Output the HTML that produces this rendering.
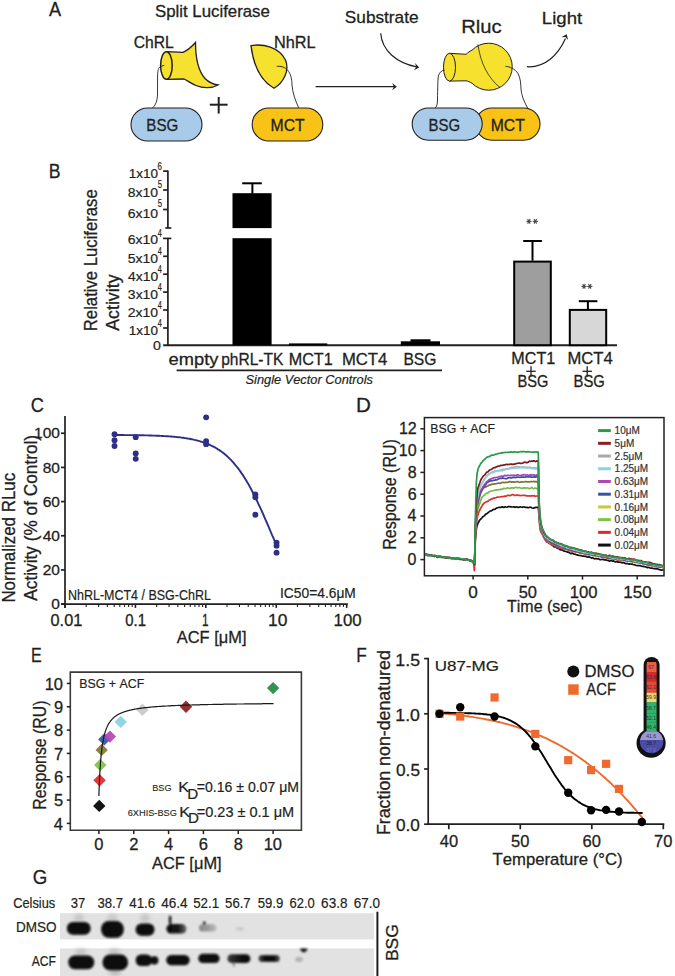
<!DOCTYPE html>
<html><head><meta charset="utf-8"><style>
html,body{margin:0;padding:0;background:#fff;}
svg{display:block;}
text{font-family:"Liberation Sans", sans-serif;font-kerning:none;}
</style></head><body>
<svg width="675" height="976" viewBox="0 0 675 976">
<rect width="675" height="976" fill="#fff"/>
<text x="49.05" y="15.80" font-size="20.5" textLength="12.08" lengthAdjust="spacingAndGlyphs" fill="#231f20" stroke="#231f20" stroke-width="0.3" >A</text>
<text x="155.04" y="17.00" font-size="16.3" textLength="114.81" lengthAdjust="spacingAndGlyphs" fill="#231f20" stroke="#231f20" stroke-width="0.3" >Split Luciferase</text>
<text x="133.82" y="47.80" font-size="15.9" textLength="40.02" lengthAdjust="spacingAndGlyphs" fill="#231f20" stroke="#231f20" stroke-width="0.3" >ChRL</text>
<text x="273.96" y="47.80" font-size="15.9" textLength="41.60" lengthAdjust="spacingAndGlyphs" fill="#231f20" stroke="#231f20" stroke-width="0.3" >NhRL</text>
<text x="344.83" y="23.30" font-size="17.0" textLength="73.71" lengthAdjust="spacingAndGlyphs" fill="#231f20" stroke="#231f20" stroke-width="0.3" >Substrate</text>
<text x="461.23" y="33.30" font-size="18.8" textLength="40.43" lengthAdjust="spacingAndGlyphs" fill="#231f20" stroke="#231f20" stroke-width="0.3" >Rluc</text>
<text x="541.87" y="23.60" font-size="16.8" textLength="40.29" lengthAdjust="spacingAndGlyphs" fill="#231f20" stroke="#231f20" stroke-width="0.3" >Light</text>
<path d="M167,51.7 L183,52.4 C188,50 192,46.5 195.5,42.5 C195.5,56 197.5,70 205,78.5 C209,82.5 213.5,84.5 218,85 C212,88.5 203,88.5 196,85.5 C191,83.5 187.5,80.5 184,79 L167,79.4 Z" fill="#f6e12f" stroke="#231f20" stroke-width="1.3" />
<ellipse cx="166.4" cy="65.5" rx="5.8" ry="13.8" fill="#f6e12f" stroke="#231f20" stroke-width="1.5"/>
<path d="M164.3,65.3 L160.4,66.5 C158.5,68 157.8,70 157.6,75 L157.5,95 C157.3,101 155.5,105.5 152.5,108" fill="none" stroke="#231f20" stroke-width="0.9" />
<rect x="131" y="108" width="71" height="33" rx="16.5" fill="#a9cbea" stroke="#231f20" stroke-width="1.1"/>
<text x="146.35" y="131.00" font-size="16.3" textLength="31.97" lengthAdjust="spacingAndGlyphs" fill="#231f20" stroke="#231f20" stroke-width="0.3" >BSG</text>
<line x1="209.80" y1="104.70" x2="227.60" y2="104.70" stroke="#231f20" stroke-width="2.0" />
<line x1="218.70" y1="97.00" x2="218.70" y2="113.60" stroke="#231f20" stroke-width="2.0" />
<path d="M251,45.6 C263,43.5 279,47 285.5,60 C290,71 283,83 274,88.3 C263,82 254,70 251,45.6 Z" fill="#f6e12f" stroke="#231f20" stroke-width="1.3" />
<path d="M276.8,66.3 C281,66 285,67 287.5,70 C291,74 291.8,79 292,85 C292.5,92 295,100 298.7,107.8" fill="none" stroke="#231f20" stroke-width="0.9" />
<rect x="252.2" y="108" width="70.6" height="33" rx="16.5" fill="#f8c316" stroke="#231f20" stroke-width="1.1"/>
<text x="270.50" y="131.30" font-size="16.3" textLength="34.17" lengthAdjust="spacingAndGlyphs" fill="#231f20" stroke="#231f20" stroke-width="0.3" >MCT</text>
<line x1="315.60" y1="86.70" x2="394.00" y2="86.70" stroke="#231f20" stroke-width="1.2" />
<path d="M396.90,86.70 L392.10,90.30 L393.90,86.70 L392.10,83.10 Z" fill="#231f20"/>
<path d="M380.7,33.3 C382,51 397,63 416.5,66.9" fill="none" stroke="#231f20" stroke-width="1.2" />
<path d="M419.20,67.40 L413.90,70.20 L416.24,66.93 L415.02,63.09 Z" fill="#231f20"/>
<path d="M449.5,53.3 L466,54.3 C468,52.5 470,51 472,50.2 A23.5,23.5 0 1,1 472,83.2 C470,82.3 468,81 466,80.8 L449.5,81.1 Z" fill="#f6e12f" stroke="#231f20" stroke-width="1.0" />
<path d="M478,44.4 C480,62 488,78 500,87.6" fill="none" stroke="#231f20" stroke-width="0.8" />
<ellipse cx="449.5" cy="67.2" rx="6" ry="13.9" fill="#f6e12f" stroke="#231f20" stroke-width="1"/>
<path d="M444.4,70.1 C441.5,70.5 439.2,72.5 438.4,76 C437.6,80 437.7,95 437.4,102 C437.2,105 436.3,107 435.3,107.8" fill="none" stroke="#231f20" stroke-width="0.9" />
<path d="M505.5,66.4 C510,66.5 515,69 518,73.5 C520.5,78 520.8,84 521,89 C521.3,95 524,101 527,107 C528,108.5 529.5,110 531,111" fill="none" stroke="#231f20" stroke-width="0.9" />
<rect x="475.6" y="108" width="64.4" height="32.2" rx="16.1" fill="#f8c316" stroke="#231f20" stroke-width="1.1"/>
<rect x="412.2" y="108" width="70" height="32.2" rx="16.1" fill="#a9cbea" stroke="#231f20" stroke-width="1.1"/>
<text x="428.56" y="131.00" font-size="16.3" textLength="31.65" lengthAdjust="spacingAndGlyphs" fill="#231f20" stroke="#231f20" stroke-width="0.3" >BSG</text>
<text x="490.70" y="131.00" font-size="16.3" textLength="34.17" lengthAdjust="spacingAndGlyphs" fill="#231f20" stroke="#231f20" stroke-width="0.3" >MCT</text>
<path d="M526.9,66.7 C545,68 558,55 565.5,38.5" fill="none" stroke="#231f20" stroke-width="1.2" />
<path d="M566.60,34.20 L568.14,40.00 L565.48,36.98 L561.46,37.30 Z" fill="#231f20"/>
<text x="48.74" y="177.80" font-size="20.5" textLength="11.77" lengthAdjust="spacingAndGlyphs" fill="#231f20" stroke="#231f20" stroke-width="0.3" >B</text>
<line x1="167.90" y1="170.40" x2="167.90" y2="228.00" stroke="#231f20" stroke-width="1.7" />
<line x1="165.30" y1="228.00" x2="171.30" y2="228.00" stroke="#231f20" stroke-width="1.7" />
<line x1="163.10" y1="171.10" x2="167.90" y2="171.10" stroke="#231f20" stroke-width="1.7" />
<line x1="163.10" y1="190.00" x2="167.90" y2="190.00" stroke="#231f20" stroke-width="1.7" />
<line x1="163.10" y1="209.50" x2="167.90" y2="209.50" stroke="#231f20" stroke-width="1.7" />
<line x1="167.90" y1="238.40" x2="167.90" y2="345.30" stroke="#231f20" stroke-width="1.7" />
<line x1="163.10" y1="238.40" x2="171.30" y2="238.40" stroke="#231f20" stroke-width="1.7" />
<line x1="163.10" y1="256.30" x2="167.90" y2="256.30" stroke="#231f20" stroke-width="1.7" />
<line x1="163.10" y1="274.20" x2="167.90" y2="274.20" stroke="#231f20" stroke-width="1.7" />
<line x1="163.10" y1="292.10" x2="167.90" y2="292.10" stroke="#231f20" stroke-width="1.7" />
<line x1="163.10" y1="310.00" x2="167.90" y2="310.00" stroke="#231f20" stroke-width="1.7" />
<line x1="163.10" y1="328.00" x2="167.90" y2="328.00" stroke="#231f20" stroke-width="1.7" />
<text x="128.79" y="177.80" font-size="13.2" textLength="29.34" lengthAdjust="spacingAndGlyphs" fill="#231f20" stroke="#231f20" stroke-width="0.2" >1x10</text>
<text x="157.60" y="169.50" font-size="10.4" textLength="4.45" lengthAdjust="spacingAndGlyphs" fill="#231f20" stroke="#231f20" stroke-width="0.2" >6</text>
<text x="127.81" y="197.40" font-size="13.2" textLength="30.33" lengthAdjust="spacingAndGlyphs" fill="#231f20" stroke="#231f20" stroke-width="0.2" >8x10</text>
<text x="157.69" y="188.10" font-size="10.4" textLength="4.33" lengthAdjust="spacingAndGlyphs" fill="#231f20" stroke="#231f20" stroke-width="0.2" >5</text>
<text x="127.70" y="218.10" font-size="13.2" textLength="30.44" lengthAdjust="spacingAndGlyphs" fill="#231f20" stroke="#231f20" stroke-width="0.2" >6x10</text>
<text x="157.69" y="207.40" font-size="10.4" textLength="4.33" lengthAdjust="spacingAndGlyphs" fill="#231f20" stroke="#231f20" stroke-width="0.2" >5</text>
<text x="127.70" y="244.40" font-size="13.2" textLength="30.44" lengthAdjust="spacingAndGlyphs" fill="#231f20" stroke="#231f20" stroke-width="0.2" >6x10</text>
<text x="157.84" y="237.40" font-size="10.4" textLength="4.07" lengthAdjust="spacingAndGlyphs" fill="#231f20" stroke="#231f20" stroke-width="0.2" >4</text>
<text x="127.84" y="263.10" font-size="13.2" textLength="30.30" lengthAdjust="spacingAndGlyphs" fill="#231f20" stroke="#231f20" stroke-width="0.2" >5x10</text>
<text x="157.84" y="255.40" font-size="10.4" textLength="4.07" lengthAdjust="spacingAndGlyphs" fill="#231f20" stroke="#231f20" stroke-width="0.2" >4</text>
<text x="128.09" y="281.00" font-size="13.2" textLength="30.05" lengthAdjust="spacingAndGlyphs" fill="#231f20" stroke="#231f20" stroke-width="0.2" >4x10</text>
<text x="157.84" y="273.30" font-size="10.4" textLength="4.07" lengthAdjust="spacingAndGlyphs" fill="#231f20" stroke="#231f20" stroke-width="0.2" >4</text>
<text x="127.88" y="298.90" font-size="13.2" textLength="30.26" lengthAdjust="spacingAndGlyphs" fill="#231f20" stroke="#231f20" stroke-width="0.2" >3x10</text>
<text x="157.84" y="291.20" font-size="10.4" textLength="4.07" lengthAdjust="spacingAndGlyphs" fill="#231f20" stroke="#231f20" stroke-width="0.2" >4</text>
<text x="127.70" y="316.80" font-size="13.2" textLength="30.44" lengthAdjust="spacingAndGlyphs" fill="#231f20" stroke="#231f20" stroke-width="0.2" >2x10</text>
<text x="157.84" y="309.10" font-size="10.4" textLength="4.07" lengthAdjust="spacingAndGlyphs" fill="#231f20" stroke="#231f20" stroke-width="0.2" >4</text>
<text x="128.79" y="334.80" font-size="13.2" textLength="29.34" lengthAdjust="spacingAndGlyphs" fill="#231f20" stroke="#231f20" stroke-width="0.2" >1x10</text>
<text x="157.84" y="327.10" font-size="10.4" textLength="4.07" lengthAdjust="spacingAndGlyphs" fill="#231f20" stroke="#231f20" stroke-width="0.2" >4</text>
<text x="153.03" y="350.40" font-size="13.2" textLength="7.92" lengthAdjust="spacingAndGlyphs" fill="#231f20" stroke="#231f20" stroke-width="0.2" >0</text>
<text x="95.52" y="329.80" font-size="18.0" textLength="141.92" lengthAdjust="spacingAndGlyphs" fill="#231f20" stroke="#231f20" stroke-width="0.3" transform="rotate(-90 96.90 329.80)">Relative Luciferase</text>
<text x="118.66" y="330.70" font-size="18.0" textLength="56.28" lengthAdjust="spacingAndGlyphs" fill="#231f20" stroke="#231f20" stroke-width="0.3" transform="rotate(-90 118.70 330.70)">Activity</text>
<line x1="163.20" y1="345.20" x2="617.00" y2="345.20" stroke="#231f20" stroke-width="1.9" />
<rect x="232.5" y="193.2" width="39.1" height="34.9" fill="#000"/>
<rect x="232.5" y="238.2" width="39.1" height="107" fill="#000"/>
<line x1="252.40" y1="193.50" x2="252.40" y2="183.30" stroke="#000" stroke-width="2.0" />
<line x1="242.20" y1="183.30" x2="261.80" y2="183.30" stroke="#000" stroke-width="2.0" />
<rect x="289" y="343.4" width="38.3" height="2" fill="#000"/>
<rect x="400.8" y="341.3" width="39.2" height="4" fill="#000"/>
<rect x="410.5" y="339.3" width="20" height="2.5" fill="#000"/>
<rect x="514.2" y="261.6" width="36.6" height="83.6" fill="#9e9e9e" stroke="#000" stroke-width="2"/>
<line x1="532.50" y1="260.60" x2="532.50" y2="241.00" stroke="#000" stroke-width="2.0" />
<line x1="523.20" y1="241.00" x2="541.90" y2="241.00" stroke="#000" stroke-width="2.0" />
<rect x="569.8" y="309.9" width="36.4" height="35.3" fill="#d7d7d7" stroke="#000" stroke-width="2"/>
<line x1="587.90" y1="309.00" x2="587.90" y2="301.20" stroke="#000" stroke-width="2.0" />
<line x1="578.80" y1="301.20" x2="597.40" y2="301.20" stroke="#000" stroke-width="2.0" />
<line x1="526.30" y1="221.40" x2="531.50" y2="221.40" stroke="#4a4a4a" stroke-width="1.1" />
<line x1="527.60" y1="219.15" x2="530.20" y2="223.65" stroke="#4a4a4a" stroke-width="1.1" />
<line x1="530.20" y1="219.15" x2="527.60" y2="223.65" stroke="#4a4a4a" stroke-width="1.1" />
<line x1="532.70" y1="221.40" x2="537.90" y2="221.40" stroke="#4a4a4a" stroke-width="1.1" />
<line x1="534.00" y1="219.15" x2="536.60" y2="223.65" stroke="#4a4a4a" stroke-width="1.1" />
<line x1="536.60" y1="219.15" x2="534.00" y2="223.65" stroke="#4a4a4a" stroke-width="1.1" />
<line x1="581.40" y1="286.40" x2="586.60" y2="286.40" stroke="#4a4a4a" stroke-width="1.1" />
<line x1="582.70" y1="284.15" x2="585.30" y2="288.65" stroke="#4a4a4a" stroke-width="1.1" />
<line x1="585.30" y1="284.15" x2="582.70" y2="288.65" stroke="#4a4a4a" stroke-width="1.1" />
<line x1="587.20" y1="286.40" x2="592.40" y2="286.40" stroke="#4a4a4a" stroke-width="1.1" />
<line x1="588.50" y1="284.15" x2="591.10" y2="288.65" stroke="#4a4a4a" stroke-width="1.1" />
<line x1="591.10" y1="284.15" x2="588.50" y2="288.65" stroke="#4a4a4a" stroke-width="1.1" />
<text x="168.62" y="364.90" font-size="17.0" textLength="49.73" lengthAdjust="spacingAndGlyphs" fill="#231f20" stroke="#231f20" stroke-width="0.3" >empty</text>
<text x="221.19" y="364.90" font-size="17.0" textLength="62.19" lengthAdjust="spacingAndGlyphs" fill="#231f20" stroke="#231f20" stroke-width="0.3" >phRL-TK</text>
<text x="288.67" y="364.90" font-size="17.0" textLength="44.04" lengthAdjust="spacingAndGlyphs" fill="#231f20" stroke="#231f20" stroke-width="0.3" >MCT1</text>
<text x="341.93" y="364.90" font-size="17.0" textLength="45.37" lengthAdjust="spacingAndGlyphs" fill="#231f20" stroke="#231f20" stroke-width="0.3" >MCT4</text>
<text x="403.41" y="364.90" font-size="17.0" textLength="33.05" lengthAdjust="spacingAndGlyphs" fill="#231f20" stroke="#231f20" stroke-width="0.3" >BSG</text>
<line x1="176.60" y1="370.30" x2="442.00" y2="370.30" stroke="#231f20" stroke-width="1.7" />
<text x="245.55" y="383.60" font-size="12.8" textLength="127.41" lengthAdjust="spacingAndGlyphs" fill="#231f20" stroke="#231f20" stroke-width="0.2" font-style="italic" >Single Vector Controls</text>
<text x="511.37" y="363.70" font-size="16.3" textLength="43.83" lengthAdjust="spacingAndGlyphs" fill="#231f20" stroke="#231f20" stroke-width="0.3" >MCT1</text>
<text x="567.53" y="363.70" font-size="16.3" textLength="45.27" lengthAdjust="spacingAndGlyphs" fill="#231f20" stroke="#231f20" stroke-width="0.3" >MCT4</text>
<text x="517.39" y="386.70" font-size="16.3" textLength="30.89" lengthAdjust="spacingAndGlyphs" fill="#231f20" stroke="#231f20" stroke-width="0.3" >BSG</text>
<text x="573.58" y="386.70" font-size="16.3" textLength="31.33" lengthAdjust="spacingAndGlyphs" fill="#231f20" stroke="#231f20" stroke-width="0.3" >BSG</text>
<line x1="526.30" y1="371.30" x2="535.70" y2="371.30" stroke="#231f20" stroke-width="1.3" />
<line x1="531.00" y1="366.30" x2="531.00" y2="376.50" stroke="#231f20" stroke-width="1.3" />
<line x1="582.50" y1="371.30" x2="591.90" y2="371.30" stroke="#231f20" stroke-width="1.3" />
<line x1="587.20" y1="366.30" x2="587.20" y2="376.50" stroke="#231f20" stroke-width="1.3" />
<text x="30.79" y="411.50" font-size="20.5" textLength="13.13" lengthAdjust="spacingAndGlyphs" fill="#231f20" stroke="#231f20" stroke-width="0.3" >C</text>
<line x1="65.00" y1="416.00" x2="65.00" y2="607.80" stroke="#231f20" stroke-width="1.7" />
<line x1="61.00" y1="604.10" x2="65.00" y2="604.10" stroke="#231f20" stroke-width="1.7" />
<text x="51.28" y="609.30" font-size="15.5" textLength="8.62" lengthAdjust="spacingAndGlyphs" fill="#231f20" stroke="#231f20" stroke-width="0.3" >0</text>
<line x1="61.00" y1="569.93" x2="65.00" y2="569.93" stroke="#231f20" stroke-width="1.7" />
<text x="42.68" y="575.13" font-size="15.5" textLength="17.24" lengthAdjust="spacingAndGlyphs" fill="#231f20" stroke="#231f20" stroke-width="0.3" >20</text>
<line x1="61.00" y1="535.76" x2="65.00" y2="535.76" stroke="#231f20" stroke-width="1.7" />
<text x="42.68" y="540.96" font-size="15.5" textLength="17.24" lengthAdjust="spacingAndGlyphs" fill="#231f20" stroke="#231f20" stroke-width="0.3" >40</text>
<line x1="61.00" y1="501.59" x2="65.00" y2="501.59" stroke="#231f20" stroke-width="1.7" />
<text x="42.68" y="506.79" font-size="15.5" textLength="17.24" lengthAdjust="spacingAndGlyphs" fill="#231f20" stroke="#231f20" stroke-width="0.3" >60</text>
<line x1="61.00" y1="467.42" x2="65.00" y2="467.42" stroke="#231f20" stroke-width="1.7" />
<text x="42.68" y="472.62" font-size="15.5" textLength="17.24" lengthAdjust="spacingAndGlyphs" fill="#231f20" stroke="#231f20" stroke-width="0.3" >80</text>
<line x1="61.00" y1="433.25" x2="65.00" y2="433.25" stroke="#231f20" stroke-width="1.7" />
<text x="34.03" y="438.45" font-size="15.5" textLength="25.86" lengthAdjust="spacingAndGlyphs" fill="#231f20" stroke="#231f20" stroke-width="0.3" >100</text>
<line x1="61.00" y1="604.10" x2="347.80" y2="604.10" stroke="#231f20" stroke-width="1.7" />
<line x1="65.00" y1="604.10" x2="65.00" y2="607.90" stroke="#231f20" stroke-width="1.6" />
<line x1="86.20" y1="604.10" x2="86.20" y2="606.90" stroke="#231f20" stroke-width="1.1" />
<line x1="98.60" y1="604.10" x2="98.60" y2="606.90" stroke="#231f20" stroke-width="1.1" />
<line x1="107.40" y1="604.10" x2="107.40" y2="606.90" stroke="#231f20" stroke-width="1.1" />
<line x1="114.22" y1="604.10" x2="114.22" y2="606.90" stroke="#231f20" stroke-width="1.1" />
<line x1="119.80" y1="604.10" x2="119.80" y2="606.90" stroke="#231f20" stroke-width="1.1" />
<line x1="124.51" y1="604.10" x2="124.51" y2="606.90" stroke="#231f20" stroke-width="1.1" />
<line x1="128.60" y1="604.10" x2="128.60" y2="606.90" stroke="#231f20" stroke-width="1.1" />
<line x1="132.20" y1="604.10" x2="132.20" y2="606.90" stroke="#231f20" stroke-width="1.1" />
<line x1="135.42" y1="604.10" x2="135.42" y2="607.90" stroke="#231f20" stroke-width="1.6" />
<line x1="156.62" y1="604.10" x2="156.62" y2="606.90" stroke="#231f20" stroke-width="1.1" />
<line x1="169.02" y1="604.10" x2="169.02" y2="606.90" stroke="#231f20" stroke-width="1.1" />
<line x1="177.82" y1="604.10" x2="177.82" y2="606.90" stroke="#231f20" stroke-width="1.1" />
<line x1="184.64" y1="604.10" x2="184.64" y2="606.90" stroke="#231f20" stroke-width="1.1" />
<line x1="190.22" y1="604.10" x2="190.22" y2="606.90" stroke="#231f20" stroke-width="1.1" />
<line x1="194.93" y1="604.10" x2="194.93" y2="606.90" stroke="#231f20" stroke-width="1.1" />
<line x1="199.02" y1="604.10" x2="199.02" y2="606.90" stroke="#231f20" stroke-width="1.1" />
<line x1="202.62" y1="604.10" x2="202.62" y2="606.90" stroke="#231f20" stroke-width="1.1" />
<line x1="205.84" y1="604.10" x2="205.84" y2="607.90" stroke="#231f20" stroke-width="1.6" />
<line x1="227.04" y1="604.10" x2="227.04" y2="606.90" stroke="#231f20" stroke-width="1.1" />
<line x1="239.44" y1="604.10" x2="239.44" y2="606.90" stroke="#231f20" stroke-width="1.1" />
<line x1="248.24" y1="604.10" x2="248.24" y2="606.90" stroke="#231f20" stroke-width="1.1" />
<line x1="255.06" y1="604.10" x2="255.06" y2="606.90" stroke="#231f20" stroke-width="1.1" />
<line x1="260.64" y1="604.10" x2="260.64" y2="606.90" stroke="#231f20" stroke-width="1.1" />
<line x1="265.35" y1="604.10" x2="265.35" y2="606.90" stroke="#231f20" stroke-width="1.1" />
<line x1="269.44" y1="604.10" x2="269.44" y2="606.90" stroke="#231f20" stroke-width="1.1" />
<line x1="273.04" y1="604.10" x2="273.04" y2="606.90" stroke="#231f20" stroke-width="1.1" />
<line x1="276.26" y1="604.10" x2="276.26" y2="607.90" stroke="#231f20" stroke-width="1.6" />
<line x1="297.46" y1="604.10" x2="297.46" y2="606.90" stroke="#231f20" stroke-width="1.1" />
<line x1="309.86" y1="604.10" x2="309.86" y2="606.90" stroke="#231f20" stroke-width="1.1" />
<line x1="318.66" y1="604.10" x2="318.66" y2="606.90" stroke="#231f20" stroke-width="1.1" />
<line x1="325.48" y1="604.10" x2="325.48" y2="606.90" stroke="#231f20" stroke-width="1.1" />
<line x1="331.06" y1="604.10" x2="331.06" y2="606.90" stroke="#231f20" stroke-width="1.1" />
<line x1="335.77" y1="604.10" x2="335.77" y2="606.90" stroke="#231f20" stroke-width="1.1" />
<line x1="339.86" y1="604.10" x2="339.86" y2="606.90" stroke="#231f20" stroke-width="1.1" />
<line x1="343.46" y1="604.10" x2="343.46" y2="606.90" stroke="#231f20" stroke-width="1.1" />
<line x1="346.68" y1="604.10" x2="346.68" y2="607.90" stroke="#231f20" stroke-width="1.6" />
<text x="50.55" y="625.60" font-size="16.5" textLength="31.75" lengthAdjust="spacingAndGlyphs" fill="#231f20" stroke="#231f20" stroke-width="0.3" >0.01</text>
<text x="125.30" y="625.60" font-size="16.5" textLength="20.71" lengthAdjust="spacingAndGlyphs" fill="#231f20" stroke="#231f20" stroke-width="0.3" >0.1</text>
<text x="202.02" y="625.60" font-size="16.5" textLength="6.56" lengthAdjust="spacingAndGlyphs" fill="#231f20" stroke="#231f20" stroke-width="0.3" >1</text>
<text x="267.99" y="625.60" font-size="16.5" textLength="19.40" lengthAdjust="spacingAndGlyphs" fill="#231f20" stroke="#231f20" stroke-width="0.3" >10</text>
<text x="333.64" y="625.60" font-size="16.5" textLength="28.01" lengthAdjust="spacingAndGlyphs" fill="#231f20" stroke="#231f20" stroke-width="0.3" >100</text>
<text x="176.76" y="643.30" font-size="16.8" textLength="69.70" lengthAdjust="spacingAndGlyphs" fill="#231f20" stroke="#231f20" stroke-width="0.3" >ACF [μM]</text>
<text x="13.30" y="601.20" font-size="17.6" textLength="129.76" lengthAdjust="spacingAndGlyphs" fill="#231f20" stroke="#231f20" stroke-width="0.3" transform="rotate(-90 14.70 601.20)">Normalized RLuc</text>
<text x="36.66" y="600.60" font-size="17.6" textLength="165.74" lengthAdjust="spacingAndGlyphs" fill="#231f20" stroke="#231f20" stroke-width="0.3" transform="rotate(-90 36.70 600.60)">Activity (% of Control)</text>
<text x="67.97" y="599.80" font-size="13.8" textLength="142.96" lengthAdjust="spacingAndGlyphs" fill="#231f20" stroke="#231f20" stroke-width="0.2" >NhRL-MCT4 / BSG-ChRL</text>
<text x="280.02" y="598.00" font-size="13.8" textLength="75.82" lengthAdjust="spacingAndGlyphs" fill="#231f20" stroke="#231f20" stroke-width="0.2" >IC50=4.6μM</text>
<polyline points="114.2,435.0 115.2,435.0 116.3,435.0 117.3,435.0 118.3,435.0 119.3,435.0 120.3,435.0 121.3,435.0 122.4,435.0 123.4,435.0 124.4,435.1 125.4,435.1 126.4,435.1 127.4,435.1 128.5,435.1 129.5,435.1 130.5,435.1 131.5,435.1 132.5,435.1 133.5,435.2 134.6,435.2 135.6,435.2 136.6,435.2 137.6,435.2 138.6,435.2 139.6,435.3 140.7,435.3 141.7,435.3 142.7,435.3 143.7,435.3 144.7,435.4 145.7,435.4 146.8,435.4 147.8,435.4 148.8,435.5 149.8,435.5 150.8,435.5 151.8,435.5 152.9,435.6 153.9,435.6 154.9,435.6 155.9,435.7 156.9,435.7 157.9,435.8 159.0,435.8 160.0,435.9 161.0,435.9 162.0,436.0 163.0,436.0 164.1,436.1 165.1,436.1 166.1,436.2 167.1,436.3 168.1,436.3 169.1,436.4 170.2,436.5 171.2,436.5 172.2,436.6 173.2,436.7 174.2,436.8 175.2,436.9 176.3,437.0 177.3,437.1 178.3,437.2 179.3,437.3 180.3,437.4 181.3,437.6 182.4,437.7 183.4,437.8 184.4,438.0 185.4,438.1 186.4,438.3 187.4,438.5 188.5,438.6 189.5,438.8 190.5,439.0 191.5,439.2 192.5,439.4 193.5,439.6 194.6,439.9 195.6,440.1 196.6,440.3 197.6,440.6 198.6,440.9 199.6,441.2 200.7,441.5 201.7,441.8 202.7,442.1 203.7,442.5 204.7,442.8 205.7,443.2 206.8,443.6 207.8,444.0 208.8,444.4 209.8,444.9 210.8,445.4 211.8,445.8 212.9,446.4 213.9,446.9 214.9,447.4 215.9,448.0 216.9,448.6 217.9,449.3 219.0,449.9 220.0,450.6 221.0,451.3 222.0,452.0 223.0,452.8 224.0,453.6 225.1,454.5 226.1,455.3 227.1,456.2 228.1,457.2 229.1,458.1 230.1,459.1 231.2,460.2 232.2,461.3 233.2,462.4 234.2,463.6 235.2,464.8 236.2,466.0 237.3,467.3 238.3,468.6 239.3,470.0 240.3,471.4 241.3,472.9 242.4,474.4 243.4,475.9 244.4,477.5 245.4,479.2 246.4,480.8 247.4,482.6 248.5,484.3 249.5,486.1 250.5,488.0 251.5,489.9 252.5,491.8 253.5,493.8 254.6,495.8 255.6,497.9 256.6,500.0 257.6,502.1 258.6,504.3 259.6,506.4 260.7,508.7 261.7,510.9 262.7,513.2 263.7,515.5 264.7,517.8 265.7,520.1 266.8,522.5 267.8,524.8 268.8,527.2 269.8,529.6 270.8,532.0 271.8,534.4 272.9,536.8 273.9,539.1 274.9,541.5 275.9,543.9" fill="none" stroke="#2e2f86" stroke-width="1.9" stroke-linejoin="round" stroke-linecap="round" />
<circle cx="114.52" cy="434.26" r="2.95" fill="#2e2f86"/>
<circle cx="114.52" cy="440.24" r="2.95" fill="#2e2f86"/>
<circle cx="114.52" cy="446.05" r="2.95" fill="#2e2f86"/>
<circle cx="135.72" cy="437.17" r="2.95" fill="#2e2f86"/>
<circle cx="135.72" cy="453.57" r="2.95" fill="#2e2f86"/>
<circle cx="135.72" cy="458.86" r="2.95" fill="#2e2f86"/>
<circle cx="206.14" cy="417.35" r="2.95" fill="#2e2f86"/>
<circle cx="206.14" cy="441.10" r="2.95" fill="#2e2f86"/>
<circle cx="206.14" cy="444.17" r="2.95" fill="#2e2f86"/>
<circle cx="255.36" cy="494.40" r="2.95" fill="#2e2f86"/>
<circle cx="255.36" cy="497.31" r="2.95" fill="#2e2f86"/>
<circle cx="255.36" cy="514.73" r="2.95" fill="#2e2f86"/>
<circle cx="276.56" cy="542.58" r="2.95" fill="#2e2f86"/>
<circle cx="276.56" cy="545.66" r="2.95" fill="#2e2f86"/>
<circle cx="276.56" cy="552.66" r="2.95" fill="#2e2f86"/>
<text x="356.10" y="411.80" font-size="20.5" textLength="14.87" lengthAdjust="spacingAndGlyphs" fill="#231f20" stroke="#231f20" stroke-width="0.3" >D</text>
<rect x="424.4" y="417.6" width="239.6" height="158.2" fill="none" stroke="#231f20" stroke-width="1.5"/>
<line x1="420.40" y1="559.60" x2="424.40" y2="559.60" stroke="#231f20" stroke-width="1.5" />
<text x="407.62" y="564.90" font-size="16.0" textLength="8.90" lengthAdjust="spacingAndGlyphs" fill="#231f20" stroke="#231f20" stroke-width="0.3" >0</text>
<line x1="420.40" y1="537.80" x2="424.40" y2="537.80" stroke="#231f20" stroke-width="1.5" />
<text x="407.82" y="543.10" font-size="16.0" textLength="8.90" lengthAdjust="spacingAndGlyphs" fill="#231f20" stroke="#231f20" stroke-width="0.3" >2</text>
<line x1="420.40" y1="516.00" x2="424.40" y2="516.00" stroke="#231f20" stroke-width="1.5" />
<text x="407.46" y="521.30" font-size="16.0" textLength="8.90" lengthAdjust="spacingAndGlyphs" fill="#231f20" stroke="#231f20" stroke-width="0.3" >4</text>
<line x1="420.40" y1="494.20" x2="424.40" y2="494.20" stroke="#231f20" stroke-width="1.5" />
<text x="407.70" y="499.50" font-size="16.0" textLength="8.90" lengthAdjust="spacingAndGlyphs" fill="#231f20" stroke="#231f20" stroke-width="0.3" >6</text>
<line x1="420.40" y1="472.40" x2="424.40" y2="472.40" stroke="#231f20" stroke-width="1.5" />
<text x="407.70" y="477.70" font-size="16.0" textLength="8.90" lengthAdjust="spacingAndGlyphs" fill="#231f20" stroke="#231f20" stroke-width="0.3" >8</text>
<line x1="420.40" y1="450.60" x2="424.40" y2="450.60" stroke="#231f20" stroke-width="1.5" />
<text x="398.74" y="455.90" font-size="16.0" textLength="17.80" lengthAdjust="spacingAndGlyphs" fill="#231f20" stroke="#231f20" stroke-width="0.3" >10</text>
<line x1="420.40" y1="428.80" x2="424.40" y2="428.80" stroke="#231f20" stroke-width="1.5" />
<text x="398.94" y="434.10" font-size="16.0" textLength="17.80" lengthAdjust="spacingAndGlyphs" fill="#231f20" stroke="#231f20" stroke-width="0.3" >12</text>
<line x1="473.10" y1="575.80" x2="473.10" y2="579.60" stroke="#231f20" stroke-width="1.5" />
<line x1="527.80" y1="575.80" x2="527.80" y2="579.60" stroke="#231f20" stroke-width="1.5" />
<line x1="582.50" y1="575.80" x2="582.50" y2="579.60" stroke="#231f20" stroke-width="1.5" />
<line x1="637.20" y1="575.80" x2="637.20" y2="579.60" stroke="#231f20" stroke-width="1.5" />
<text x="468.21" y="598.10" font-size="17.0" textLength="9.55" lengthAdjust="spacingAndGlyphs" fill="#231f20" stroke="#231f20" stroke-width="0.3" >0</text>
<text x="518.64" y="598.10" font-size="17.0" textLength="18.31" lengthAdjust="spacingAndGlyphs" fill="#231f20" stroke="#231f20" stroke-width="0.3" >50</text>
<text x="569.85" y="598.10" font-size="17.0" textLength="27.79" lengthAdjust="spacingAndGlyphs" fill="#231f20" stroke="#231f20" stroke-width="0.3" >100</text>
<text x="623.22" y="598.10" font-size="17.0" textLength="28.43" lengthAdjust="spacingAndGlyphs" fill="#231f20" stroke="#231f20" stroke-width="0.3" >150</text>
<text x="507.04" y="612.30" font-size="16.8" textLength="75.47" lengthAdjust="spacingAndGlyphs" fill="#231f20" stroke="#231f20" stroke-width="0.3" >Time (sec)</text>
<text x="395.18" y="548.40" font-size="18.3" textLength="110.65" lengthAdjust="spacingAndGlyphs" fill="#231f20" stroke="#231f20" stroke-width="0.3" transform="rotate(-90 396.50 548.40)">Response (RU)</text>
<text x="430.37" y="433.00" font-size="13.0" textLength="64.64" lengthAdjust="spacingAndGlyphs" fill="#231f20" stroke="#231f20" stroke-width="0.2" >BSG + ACF</text>
<line x1="598.10" y1="430.60" x2="610.80" y2="430.60" stroke="#2a9a48" stroke-width="3.0" />
<text x="614.60" y="434.20" font-size="10.0" fill="#333" stroke="#333" stroke-width="0.2">10μM</text>
<line x1="598.10" y1="443.32" x2="610.80" y2="443.32" stroke="#8b1c1f" stroke-width="3.0" />
<text x="614.60" y="446.92" font-size="10.0" fill="#333" stroke="#333" stroke-width="0.2">5μM</text>
<line x1="598.10" y1="456.04" x2="610.80" y2="456.04" stroke="#a8a8a8" stroke-width="3.0" />
<text x="614.60" y="459.64" font-size="10.0" fill="#333" stroke="#333" stroke-width="0.2">2.5μM</text>
<line x1="598.10" y1="468.76" x2="610.80" y2="468.76" stroke="#86d3e3" stroke-width="3.0" />
<text x="614.60" y="472.36" font-size="10.0" fill="#333" stroke="#333" stroke-width="0.2">1.25μM</text>
<line x1="598.10" y1="481.48" x2="610.80" y2="481.48" stroke="#b147b5" stroke-width="3.0" />
<text x="614.60" y="485.08" font-size="10.0" fill="#333" stroke="#333" stroke-width="0.2">0.63μM</text>
<line x1="598.10" y1="494.20" x2="610.80" y2="494.20" stroke="#3553a8" stroke-width="3.0" />
<text x="614.60" y="497.80" font-size="10.0" fill="#333" stroke="#333" stroke-width="0.2">0.31μM</text>
<line x1="598.10" y1="506.92" x2="610.80" y2="506.92" stroke="#c9c934" stroke-width="3.0" />
<text x="614.60" y="510.52" font-size="10.0" fill="#333" stroke="#333" stroke-width="0.2">0.16μM</text>
<line x1="598.10" y1="519.64" x2="610.80" y2="519.64" stroke="#7cc242" stroke-width="3.0" />
<text x="614.60" y="523.24" font-size="10.0" fill="#333" stroke="#333" stroke-width="0.2">0.08μM</text>
<line x1="598.10" y1="532.36" x2="610.80" y2="532.36" stroke="#e2262b" stroke-width="3.0" />
<text x="614.60" y="535.96" font-size="10.0" fill="#333" stroke="#333" stroke-width="0.2">0.04μM</text>
<line x1="598.10" y1="545.08" x2="610.80" y2="545.08" stroke="#111111" stroke-width="3.0" />
<text x="614.60" y="548.68" font-size="10.0" fill="#333" stroke="#333" stroke-width="0.2">0.02μM</text>
<clipPath id="dclip"><rect x="425.2" y="418.40000000000003" width="238.0" height="156.6"/></clipPath>
<g clip-path="url(#dclip)">
<polyline points="423.9,554.0 424.5,554.3 425.2,554.5 425.8,554.6 426.5,554.8 427.2,554.9 427.8,555.1 428.5,555.3 429.1,555.1 429.8,555.1 430.4,555.4 431.1,555.5 431.7,555.5 432.4,555.7 433.1,556.0 433.7,556.2 434.4,556.0 435.0,556.0 435.7,556.3 436.3,556.4 437.0,556.2 437.7,556.4 438.3,556.5 439.0,556.4 439.6,556.7 440.3,557.2 440.9,557.4 441.6,557.4 442.2,557.2 442.9,557.2 443.6,557.3 444.2,557.3 444.9,557.5 445.5,557.7 446.2,557.9 446.8,558.0 447.5,557.8 448.2,557.4 448.8,557.3 449.5,557.6 450.1,557.8 450.8,557.8 451.4,558.0 452.1,558.3 452.8,558.7 453.4,558.6 454.1,558.1 454.7,557.8 455.4,558.2 456.0,558.3 456.7,558.2 457.3,558.3 458.0,558.6 458.7,558.7 459.3,558.8 460.0,559.1 460.6,559.2 461.3,559.0 461.9,558.9 462.6,558.9 463.3,559.3 463.9,559.7 464.6,559.4 465.2,559.2 465.9,559.5 466.5,560.0 467.2,560.2 467.8,560.2 468.5,560.3 469.2,560.2 469.8,560.2 470.5,560.4 471.1,560.6 471.8,560.7 472.4,561.2 473.1,562.1 473.8,562.9 474.2,563.6 474.4,564.1 474.5,563.1 474.7,557.8 474.9,550.1 475.0,542.0 475.2,534.9 475.3,530.1 475.5,526.3 475.7,522.7 475.8,519.3 476.0,516.3 476.2,513.9 476.3,511.5 476.5,509.3 476.7,507.2 476.8,505.1 477.0,503.1 477.1,500.9 477.3,498.8 477.5,497.5 477.6,496.7 477.8,496.0 478.0,495.2 478.1,494.3 478.3,493.6 478.5,493.1 478.6,492.6 479.2,489.9 479.9,487.7 480.5,485.8 481.2,484.3 481.9,483.2 482.5,482.2 483.2,480.9 483.8,479.7 484.5,478.9 485.1,478.2 485.8,477.3 486.4,476.4 487.1,475.7 487.8,474.9 488.4,474.1 489.1,473.8 489.7,473.5 490.4,473.0 491.0,472.7 491.7,472.4 492.4,472.0 493.0,471.7 493.7,471.5 494.3,471.2 495.0,471.1 495.6,471.1 496.3,471.0 496.9,470.8 497.6,470.6 498.3,470.7 498.9,470.6 499.6,470.3 500.2,470.3 500.9,470.2 501.5,469.8 502.2,469.5 502.9,469.4 503.5,469.4 504.2,469.5 504.8,469.4 505.5,469.1 506.1,468.9 506.8,468.8 507.5,468.7 508.1,468.7 508.8,468.5 509.4,468.5 510.1,468.1 510.7,467.7 511.4,467.3 512.0,467.4 512.7,467.6 513.4,467.4 514.0,467.0 514.7,467.1 515.3,467.3 516.0,467.0 516.6,466.9 517.3,467.1 518.0,467.0 518.6,466.8 519.3,466.9 519.9,467.0 520.6,467.2 521.2,467.3 521.9,467.2 522.5,467.0 523.2,466.9 523.9,467.0 524.5,467.2 525.2,467.2 525.8,467.0 526.5,467.2 527.1,467.5 527.8,467.4 528.5,467.4 529.1,467.5 529.8,467.4 530.4,467.4 531.1,467.7 531.7,468.2 532.4,468.2 533.1,467.9 533.7,467.8 534.4,467.7 535.0,467.9 535.7,468.0 536.3,468.0 537.0,468.3 537.6,468.3 537.8,468.0 538.0,468.1 538.1,468.0 538.3,469.1 538.5,475.2 538.6,484.0 538.8,493.2 539.0,501.3 539.1,506.2 539.3,509.4 539.5,512.3 539.6,515.0 539.8,517.3 539.9,519.3 540.1,520.8 540.3,522.1 540.4,523.0 540.6,523.7 540.8,524.6 540.9,525.4 541.1,526.3 541.3,526.9 541.4,527.4 541.6,527.9 541.7,528.3 541.9,528.7 542.1,529.1 542.2,529.8 542.4,530.5 542.6,531.0 542.7,531.3 542.9,531.6 543.1,532.2 543.1,532.2 543.8,533.6 544.4,535.0 545.1,536.2 545.7,536.9 546.4,537.6 547.1,538.2 547.7,538.5 548.4,539.1 549.0,539.8 549.7,540.3 550.3,540.5 551.0,541.1 551.6,541.5 552.3,541.5 553.0,541.8 553.6,542.3 554.3,542.7 554.9,542.9 555.6,543.3 556.2,543.8 556.9,544.2 557.6,544.3 558.2,544.5 558.9,544.7 559.5,544.9 560.2,545.1 560.8,545.3 561.5,545.8 562.2,546.2 562.8,546.2 563.5,546.2 564.1,546.3 564.8,546.8 565.4,547.3 566.1,547.3 566.7,547.2 567.4,547.6 568.1,548.0 568.7,548.2 569.4,548.3 570.0,548.4 570.7,548.5 571.3,548.6 572.0,548.9 572.7,549.3 573.3,549.3 574.0,549.4 574.6,549.8 575.3,550.3 575.9,550.5 576.6,550.4 577.2,550.7 577.9,551.3 578.6,551.4 579.2,551.1 579.9,551.0 580.5,551.2 581.2,551.4 581.8,551.9 582.5,552.0 583.2,551.8 583.8,551.9 584.5,552.0 585.1,552.2 585.8,552.6 586.4,552.7 587.1,552.4 587.8,552.4 588.4,552.7 589.1,552.9 589.7,553.2 590.4,553.4 591.0,553.7 591.7,554.0 592.3,553.8 593.0,553.8 593.7,554.0 594.3,554.1 595.0,554.2 595.6,554.7 596.3,555.1 596.9,555.1 597.6,555.0 598.3,554.8 598.9,555.0 599.6,555.4 600.2,555.3 600.9,555.0 601.5,555.5 602.2,555.9 602.8,555.7 603.5,555.7 604.2,556.0 604.8,556.4 605.5,556.5 606.1,556.4 606.8,556.6 607.4,556.8 608.1,556.6 608.8,556.6 609.4,556.9 610.1,557.1 610.7,557.2 611.4,557.5 612.0,557.7 612.7,557.7 613.4,557.8 614.0,557.9 614.7,558.1 615.3,558.1 616.0,557.9 616.6,557.9 617.3,558.4 617.9,558.7 618.6,558.8 619.3,558.8 619.9,558.8 620.6,558.6 621.2,558.4 621.9,558.6 622.5,558.7 623.2,558.4 623.9,558.5 624.5,559.3 625.2,559.8 625.8,559.7 626.5,559.7 627.1,560.1 627.8,559.9 628.4,559.9 629.1,560.0 629.8,559.9 630.4,559.9 631.1,560.2 631.7,560.4 632.4,560.6 633.0,560.7 633.7,560.7 634.4,560.7 635.0,561.1 635.7,561.4 636.3,561.4 637.0,561.5 637.6,561.3 638.3,561.1 639.0,561.6 639.6,562.1 640.3,562.2 640.9,562.0 641.6,562.0 642.2,562.1 642.9,562.2 643.5,562.6 644.2,562.9 644.9,563.4 645.5,563.9 646.2,563.8 646.8,563.5 647.5,563.5 648.1,563.6 648.8,563.7 649.5,563.8 650.1,564.0 650.8,564.3 651.4,564.6 652.1,564.7 652.7,564.6 653.4,564.6 654.0,564.7 654.7,564.6 655.4,564.8 656.0,565.2 656.7,565.4 657.3,565.7 658.0,565.7 658.6,565.9 659.3,566.1 660.0,566.0 660.6,566.1 661.3,566.3 661.9,566.3 662.6,566.2 663.2,566.3 663.9,566.9 664.5,567.2 665.2,567.0" fill="none" stroke="#a9a9a9" stroke-width="1.7" stroke-linejoin="round" stroke-linecap="round" />
<polyline points="423.9,554.2 424.5,554.4 425.2,554.6 425.8,554.8 426.5,555.2 427.2,555.3 427.8,555.2 428.5,555.2 429.1,555.4 429.8,555.6 430.4,555.7 431.1,555.8 431.7,555.8 432.4,555.9 433.1,556.0 433.7,556.0 434.4,555.9 435.0,556.0 435.7,556.1 436.3,556.3 437.0,556.5 437.7,556.5 438.3,556.5 439.0,556.7 439.6,556.9 440.3,556.9 440.9,556.6 441.6,556.6 442.2,557.0 442.9,557.2 443.6,557.2 444.2,557.2 444.9,557.1 445.5,557.5 446.2,558.0 446.8,558.0 447.5,557.9 448.2,557.9 448.8,558.0 449.5,557.9 450.1,557.6 450.8,557.8 451.4,558.4 452.1,558.3 452.8,558.1 453.4,558.2 454.1,558.4 454.7,558.7 455.4,558.6 456.0,558.3 456.7,558.2 457.3,558.5 458.0,558.8 458.7,558.8 459.3,558.8 460.0,558.8 460.6,558.9 461.3,559.1 461.9,559.2 462.6,559.2 463.3,559.0 463.9,559.1 464.6,559.4 465.2,559.6 465.9,559.6 466.5,559.4 467.2,559.5 467.8,559.7 468.5,559.9 469.2,560.2 469.8,560.5 470.5,560.7 471.1,560.9 471.8,561.1 472.4,561.6 473.1,562.2 473.8,562.9 474.2,564.0 474.4,564.6 474.5,563.9 474.7,559.6 474.9,553.8 475.0,548.5 475.2,544.6 475.3,541.5 475.5,539.0 475.7,536.9 475.8,534.7 476.0,532.8 476.2,531.2 476.3,529.8 476.5,528.7 476.7,527.5 476.8,526.4 477.0,525.9 477.1,525.6 477.3,525.2 477.5,524.8 477.6,524.1 477.8,523.3 478.0,523.1 478.1,523.1 478.3,522.9 478.5,522.5 478.6,522.2 479.2,521.0 479.9,519.9 480.5,519.3 481.2,518.8 481.9,517.9 482.5,517.0 483.2,516.5 483.8,516.2 484.5,515.6 485.1,514.9 485.8,514.2 486.4,513.8 487.1,513.5 487.8,513.0 488.4,512.4 489.1,511.9 489.7,511.3 490.4,511.0 491.0,511.0 491.7,510.6 492.4,510.2 493.0,509.7 493.7,509.4 494.3,509.5 495.0,509.3 495.6,508.7 496.3,508.3 496.9,508.0 497.6,507.7 498.3,507.5 498.9,507.4 499.6,507.3 500.2,507.3 500.9,507.3 501.5,507.2 502.2,506.9 502.9,507.0 503.5,507.4 504.2,507.3 504.8,506.9 505.5,506.8 506.1,507.0 506.8,507.2 507.5,507.0 508.1,506.6 508.8,506.6 509.4,506.7 510.1,506.7 510.7,506.8 511.4,506.9 512.0,507.0 512.7,507.0 513.4,506.9 514.0,506.9 514.7,507.2 515.3,507.3 516.0,507.0 516.6,506.9 517.3,507.1 518.0,507.4 518.6,507.4 519.3,507.2 519.9,506.9 520.6,506.8 521.2,507.0 521.9,507.2 522.5,507.3 523.2,507.0 523.9,506.9 524.5,507.1 525.2,507.3 525.8,507.3 526.5,507.4 527.1,507.4 527.8,507.6 528.5,507.7 529.1,507.5 529.8,507.2 530.4,507.2 531.1,507.4 531.7,507.7 532.4,508.0 533.1,508.2 533.7,508.1 534.4,507.8 535.0,507.7 535.7,507.4 536.3,507.3 537.0,507.4 537.6,507.3 537.8,507.3 538.0,507.4 538.1,507.5 538.3,507.8 538.5,509.3 538.6,511.3 538.8,513.7 539.0,515.9 539.1,517.5 539.3,519.2 539.5,520.9 539.6,522.4 539.8,523.9 539.9,525.3 540.1,526.0 540.3,526.6 540.4,527.4 540.6,528.1 540.8,528.5 540.9,528.8 541.1,529.2 541.3,529.7 541.4,529.9 541.6,530.4 541.7,530.9 541.9,531.5 542.1,532.0 542.2,532.4 542.4,532.5 542.6,532.6 542.7,533.0 542.9,533.5 543.1,534.1 543.1,534.4 543.8,535.6 544.4,536.7 545.1,537.8 545.7,538.9 546.4,539.8 547.1,540.7 547.7,541.3 548.4,541.9 549.0,542.7 549.7,543.2 550.3,543.6 551.0,544.2 551.6,544.8 552.3,545.2 553.0,545.6 553.6,546.4 554.3,547.0 554.9,547.0 555.6,546.9 556.2,547.3 556.9,547.9 557.6,548.3 558.2,548.4 558.9,548.7 559.5,549.2 560.2,549.7 560.8,549.8 561.5,549.8 562.2,549.9 562.8,550.2 563.5,550.7 564.1,551.1 564.8,551.2 565.4,551.4 566.1,551.5 566.7,551.6 567.4,552.1 568.1,552.3 568.7,552.2 569.4,552.4 570.0,553.1 570.7,553.6 571.3,553.4 572.0,553.1 572.7,553.3 573.3,553.8 574.0,554.1 574.6,554.1 575.3,554.3 575.9,554.6 576.6,554.8 577.2,554.9 577.9,555.1 578.6,555.3 579.2,555.4 579.9,555.5 580.5,555.6 581.2,555.5 581.8,555.8 582.5,556.1 583.2,556.1 583.8,556.1 584.5,556.3 585.1,556.3 585.8,556.4 586.4,556.6 587.1,557.0 587.8,557.2 588.4,556.9 589.1,556.7 589.7,557.0 590.4,557.4 591.0,557.8 591.7,558.1 592.3,557.9 593.0,557.9 593.7,558.4 594.3,558.7 595.0,558.8 595.6,558.5 596.3,558.5 596.9,558.9 597.6,558.8 598.3,558.7 598.9,559.0 599.6,559.4 600.2,559.7 600.9,559.7 601.5,559.5 602.2,559.4 602.8,559.4 603.5,559.5 604.2,559.9 604.8,560.0 605.5,559.9 606.1,559.9 606.8,560.3 607.4,560.5 608.1,560.4 608.8,560.8 609.4,561.2 610.1,561.0 610.7,560.6 611.4,560.5 612.0,561.0 612.7,561.2 613.4,560.9 614.0,561.1 614.7,561.6 615.3,561.9 616.0,561.8 616.6,561.6 617.3,561.8 617.9,562.2 618.6,562.1 619.3,562.0 619.9,562.2 620.6,562.3 621.2,562.4 621.9,562.7 622.5,562.8 623.2,562.7 623.9,562.6 624.5,563.0 625.2,563.5 625.8,563.6 626.5,563.5 627.1,563.6 627.8,563.7 628.4,563.9 629.1,564.1 629.8,563.9 630.4,564.0 631.1,564.2 631.7,564.2 632.4,564.2 633.0,564.5 633.7,564.7 634.4,564.7 635.0,564.9 635.7,565.3 636.3,565.5 637.0,565.5 637.6,565.6 638.3,565.6 639.0,565.6 639.6,565.6 640.3,565.6 640.9,565.9 641.6,566.2 642.2,566.4 642.9,566.4 643.5,566.4 644.2,566.6 644.9,566.8 645.5,566.8 646.2,567.0 646.8,567.4 647.5,567.6 648.1,567.4 648.8,567.4 649.5,567.7 650.1,567.9 650.8,568.1 651.4,568.1 652.1,568.2 652.7,568.3 653.4,568.5 654.0,568.6 654.7,568.6 655.4,568.8 656.0,568.9 656.7,568.9 657.3,568.8 658.0,569.0 658.6,569.3 659.3,569.6 660.0,569.7 660.6,569.9 661.3,570.2 661.9,570.2 662.6,570.0 663.2,569.9 663.9,570.2 664.5,570.6 665.2,570.7" fill="none" stroke="#111111" stroke-width="1.7" stroke-linejoin="round" stroke-linecap="round" />
<polyline points="423.9,554.4 424.5,554.4 425.2,554.5 425.8,554.7 426.5,554.9 427.2,554.8 427.8,554.9 428.5,555.1 429.1,555.1 429.8,554.9 430.4,555.1 431.1,555.4 431.7,555.6 432.4,555.8 433.1,555.7 433.7,555.4 434.4,555.7 435.0,556.2 435.7,556.1 436.3,555.9 437.0,556.3 437.7,556.4 438.3,556.4 439.0,556.6 439.6,556.8 440.3,557.0 440.9,557.3 441.6,557.2 442.2,557.0 442.9,556.8 443.6,556.7 444.2,557.0 444.9,557.3 445.5,557.4 446.2,557.3 446.8,557.5 447.5,557.9 448.2,558.2 448.8,558.2 449.5,557.9 450.1,557.9 450.8,558.1 451.4,558.2 452.1,558.3 452.8,558.4 453.4,558.4 454.1,558.2 454.7,558.1 455.4,558.3 456.0,558.6 456.7,558.6 457.3,558.4 458.0,558.4 458.7,558.5 459.3,558.5 460.0,558.6 460.6,559.1 461.3,559.4 461.9,559.4 462.6,559.2 463.3,559.3 463.9,559.5 464.6,559.5 465.2,559.4 465.9,559.5 466.5,559.6 467.2,559.7 467.8,560.1 468.5,560.1 469.2,559.8 469.8,560.2 470.5,560.7 471.1,561.0 471.8,561.1 472.4,561.2 473.1,561.8 473.8,563.3 474.2,569.2 474.4,570.7 474.5,569.2 474.7,563.3 474.9,555.2 475.0,546.7 475.2,539.5 475.3,535.8 475.5,533.4 475.7,531.4 475.8,529.5 476.0,527.7 476.2,526.2 476.3,524.6 476.5,523.1 476.7,521.9 476.8,521.1 477.0,520.1 477.1,519.1 477.3,518.0 477.5,517.0 477.6,516.1 477.8,515.5 478.0,515.0 478.1,514.5 478.3,514.1 478.5,513.5 478.6,512.9 479.2,511.1 479.9,510.0 480.5,508.7 481.2,507.4 481.9,506.1 482.5,504.9 483.2,504.1 483.8,503.5 484.5,502.9 485.1,502.5 485.8,502.1 486.4,501.8 487.1,501.6 487.8,501.4 488.4,500.7 489.1,500.0 489.7,500.0 490.4,499.8 491.0,499.2 491.7,499.1 492.4,498.8 493.0,498.3 493.7,498.1 494.3,498.1 495.0,498.0 495.6,497.8 496.3,497.6 496.9,497.3 497.6,497.1 498.3,497.0 498.9,497.0 499.6,497.0 500.2,497.0 500.9,496.7 501.5,496.5 502.2,496.6 502.9,496.6 503.5,496.5 504.2,496.4 504.8,496.1 505.5,496.0 506.1,496.1 506.8,495.8 507.5,495.4 508.1,495.3 508.8,495.3 509.4,495.5 510.1,495.6 510.7,495.5 511.4,495.1 512.0,494.7 512.7,494.7 513.4,494.7 514.0,495.0 514.7,495.5 515.3,495.5 516.0,495.3 516.6,494.9 517.3,494.9 518.0,495.3 518.6,495.3 519.3,495.3 519.9,495.5 520.6,495.6 521.2,495.5 521.9,495.4 522.5,495.5 523.2,495.4 523.9,495.3 524.5,495.3 525.2,495.3 525.8,495.7 526.5,495.8 527.1,495.8 527.8,495.9 528.5,496.0 529.1,495.8 529.8,495.9 530.4,496.1 531.1,496.0 531.7,495.6 532.4,495.7 533.1,496.0 533.7,495.8 534.4,495.7 535.0,496.2 535.7,496.3 536.3,496.0 537.0,496.0 537.6,495.9 537.8,495.8 538.0,495.9 538.1,495.9 538.3,496.4 538.5,499.0 538.6,503.1 538.8,507.9 539.0,512.7 539.1,515.9 539.3,518.5 539.5,521.5 539.6,524.5 539.8,526.9 539.9,528.4 540.1,529.4 540.3,530.2 540.4,530.8 540.6,531.1 540.8,531.4 540.9,532.0 541.1,532.2 541.3,532.4 541.4,532.8 541.6,533.2 541.7,533.4 541.9,533.6 542.1,533.8 542.2,534.1 542.4,534.3 542.6,534.6 542.7,535.3 542.9,535.7 543.1,536.1 543.1,536.3 543.8,537.7 544.4,538.8 545.1,539.8 545.7,540.8 546.4,541.7 547.1,542.2 547.7,542.4 548.4,542.9 549.0,543.5 549.7,543.6 550.3,543.7 551.0,544.0 551.6,544.6 552.3,545.0 553.0,545.1 553.6,545.2 554.3,545.8 554.9,546.3 555.6,546.5 556.2,546.8 556.9,547.2 557.6,547.5 558.2,547.8 558.9,547.9 559.5,548.0 560.2,548.1 560.8,548.2 561.5,548.5 562.2,548.8 562.8,548.8 563.5,548.6 564.1,548.8 564.8,549.1 565.4,549.2 566.1,549.2 566.7,549.3 567.4,549.5 568.1,550.1 568.7,550.2 569.4,550.1 570.0,550.1 570.7,550.6 571.3,551.3 572.0,551.7 572.7,551.8 573.3,551.6 574.0,551.5 574.6,551.7 575.3,551.8 575.9,551.8 576.6,552.0 577.2,552.1 577.9,552.2 578.6,552.4 579.2,552.6 579.9,552.9 580.5,553.1 581.2,553.1 581.8,553.1 582.5,553.3 583.2,553.4 583.8,553.6 584.5,554.0 585.1,554.2 585.8,554.3 586.4,554.4 587.1,554.5 587.8,554.6 588.4,554.7 589.1,554.7 589.7,554.7 590.4,554.7 591.0,554.7 591.7,555.1 592.3,555.5 593.0,555.6 593.7,555.5 594.3,555.3 595.0,555.5 595.6,556.0 596.3,556.0 596.9,555.9 597.6,556.1 598.3,556.3 598.9,556.5 599.6,556.3 600.2,556.3 600.9,556.7 601.5,557.1 602.2,557.1 602.8,557.1 603.5,557.2 604.2,557.4 604.8,557.5 605.5,557.4 606.1,557.6 606.8,558.2 607.4,558.5 608.1,558.5 608.8,558.6 609.4,558.6 610.1,558.4 610.7,558.4 611.4,558.6 612.0,558.8 612.7,558.8 613.4,558.8 614.0,558.9 614.7,559.1 615.3,559.2 616.0,559.3 616.6,559.5 617.3,560.0 617.9,560.1 618.6,559.8 619.3,559.8 619.9,559.8 620.6,559.8 621.2,559.9 621.9,559.8 622.5,559.9 623.2,560.2 623.9,560.1 624.5,559.9 625.2,560.4 625.8,560.9 626.5,560.7 627.1,560.8 627.8,561.1 628.4,561.1 629.1,561.2 629.8,561.3 630.4,561.3 631.1,561.4 631.7,561.5 632.4,561.7 633.0,561.8 633.7,561.9 634.4,561.8 635.0,561.7 635.7,562.0 636.3,562.5 637.0,562.6 637.6,562.7 638.3,562.7 639.0,562.7 639.6,562.9 640.3,563.1 640.9,563.2 641.6,563.2 642.2,563.3 642.9,563.6 643.5,563.8 644.2,563.8 644.9,563.7 645.5,563.9 646.2,564.3 646.8,564.7 647.5,565.0 648.1,565.1 648.8,564.9 649.5,564.8 650.1,565.0 650.8,565.4 651.4,565.7 652.1,565.7 652.7,565.7 653.4,565.8 654.0,565.9 654.7,566.0 655.4,566.0 656.0,566.3 656.7,566.5 657.3,566.6 658.0,566.8 658.6,566.8 659.3,566.7 660.0,567.0 660.6,567.3 661.3,567.1 661.9,567.1 662.6,567.3 663.2,567.5 663.9,567.7 664.5,568.0 665.2,568.1" fill="none" stroke="#d9302f" stroke-width="1.7" stroke-linejoin="round" stroke-linecap="round" />
<polyline points="423.9,554.0 424.5,554.4 425.2,554.7 425.8,554.6 426.5,554.3 427.2,554.5 427.8,554.9 428.5,555.0 429.1,555.0 429.8,555.2 430.4,555.5 431.1,555.5 431.7,555.6 432.4,555.9 433.1,555.9 433.7,555.6 434.4,555.6 435.0,555.9 435.7,556.2 436.3,556.4 437.0,556.3 437.7,556.5 438.3,556.9 439.0,556.9 439.6,556.9 440.3,557.2 440.9,557.1 441.6,557.1 442.2,557.4 442.9,557.4 443.6,557.2 444.2,557.3 444.9,557.4 445.5,557.3 446.2,557.2 446.8,557.2 447.5,557.3 448.2,557.5 448.8,557.8 449.5,558.2 450.1,558.4 450.8,558.3 451.4,558.1 452.1,558.1 452.8,558.4 453.4,558.5 454.1,558.7 454.7,558.6 455.4,558.2 456.0,558.1 456.7,558.1 457.3,558.3 458.0,558.9 458.7,559.0 459.3,558.6 460.0,558.8 460.6,559.1 461.3,558.9 461.9,559.0 462.6,559.3 463.3,559.3 463.9,559.3 464.6,559.2 465.2,559.3 465.9,559.6 466.5,559.7 467.2,559.6 467.8,559.6 468.5,559.8 469.2,560.1 469.8,560.5 470.5,560.6 471.1,560.7 471.8,561.2 472.4,561.7 473.1,562.3 473.8,563.1 474.2,564.7 474.4,565.3 474.5,564.3 474.7,559.3 474.9,551.8 475.0,544.2 475.2,537.8 475.3,533.7 475.5,530.4 475.7,527.7 475.8,525.8 476.0,524.2 476.2,522.4 476.3,520.6 476.5,519.3 476.7,518.0 476.8,516.7 477.0,515.2 477.1,513.6 477.3,512.3 477.5,511.4 477.6,510.5 477.8,509.7 478.0,509.0 478.1,508.7 478.3,508.3 478.5,507.6 478.6,507.1 479.2,505.0 479.9,503.1 480.5,501.1 481.2,499.3 481.9,497.7 482.5,496.6 483.2,496.1 483.8,495.5 484.5,495.0 485.1,494.6 485.8,493.9 486.4,493.3 487.1,493.1 487.8,493.0 488.4,492.5 489.1,491.9 489.7,491.7 490.4,491.3 491.0,491.0 491.7,491.0 492.4,490.9 493.0,490.7 493.7,490.5 494.3,490.3 495.0,490.1 495.6,490.1 496.3,489.9 496.9,489.9 497.6,489.9 498.3,489.7 498.9,489.7 499.6,489.7 500.2,489.4 500.9,489.2 501.5,489.3 502.2,489.2 502.9,488.7 503.5,488.4 504.2,488.4 504.8,488.5 505.5,488.6 506.1,488.5 506.8,488.2 507.5,487.9 508.1,488.0 508.8,488.2 509.4,488.4 510.1,488.4 510.7,488.1 511.4,487.8 512.0,487.7 512.7,488.0 513.4,488.1 514.0,487.9 514.7,487.8 515.3,487.5 516.0,487.3 516.6,487.5 517.3,487.8 518.0,487.8 518.6,487.5 519.3,487.6 519.9,487.8 520.6,488.0 521.2,488.2 521.9,488.3 522.5,488.2 523.2,488.1 523.9,487.9 524.5,487.8 525.2,487.9 525.8,488.1 526.5,488.0 527.1,487.9 527.8,488.0 528.5,488.3 529.1,488.6 529.8,488.6 530.4,488.3 531.1,488.0 531.7,487.5 532.4,487.7 533.1,488.5 533.7,488.8 534.4,488.4 535.0,488.0 535.7,488.0 536.3,488.4 537.0,488.7 537.6,489.0 537.8,489.2 538.0,488.9 538.1,488.4 538.3,489.2 538.5,493.0 538.6,498.2 538.8,504.0 539.0,509.5 539.1,513.3 539.3,516.2 539.5,519.0 539.6,521.8 539.8,524.1 539.9,525.7 540.1,526.7 540.3,527.3 540.4,527.7 540.6,528.2 540.8,528.6 540.9,528.9 541.1,529.3 541.3,529.9 541.4,530.5 541.6,530.8 541.7,531.1 541.9,531.8 542.1,532.4 542.2,532.8 542.4,533.0 542.6,533.2 542.7,533.5 542.9,534.3 543.1,534.9 543.1,534.7 543.8,535.9 544.4,537.4 545.1,538.6 545.7,539.3 546.4,539.9 547.1,540.8 547.7,541.6 548.4,541.9 549.0,542.3 549.7,542.6 550.3,542.8 551.0,543.0 551.6,543.3 552.3,543.6 553.0,543.8 553.6,544.0 554.3,544.6 554.9,545.0 555.6,545.0 556.2,545.2 556.9,545.7 557.6,546.0 558.2,546.1 558.9,546.0 559.5,546.2 560.2,546.7 560.8,547.1 561.5,547.5 562.2,547.8 562.8,547.8 563.5,547.8 564.1,548.3 564.8,548.6 565.4,548.7 566.1,548.6 566.7,548.8 567.4,549.1 568.1,549.3 568.7,549.6 569.4,549.9 570.0,550.3 570.7,550.1 571.3,550.2 572.0,550.6 572.7,550.7 573.3,550.8 574.0,551.0 574.6,551.3 575.3,551.5 575.9,551.3 576.6,551.3 577.2,551.7 577.9,551.7 578.6,551.6 579.2,551.9 579.9,552.3 580.5,552.5 581.2,552.5 581.8,552.5 582.5,552.7 583.2,553.0 583.8,553.0 584.5,553.0 585.1,553.2 585.8,553.6 586.4,553.9 587.1,554.0 587.8,554.1 588.4,554.0 589.1,553.8 589.7,553.9 590.4,554.2 591.0,554.5 591.7,554.6 592.3,554.5 593.0,554.5 593.7,554.9 594.3,555.2 595.0,555.3 595.6,555.2 596.3,555.5 596.9,555.9 597.6,555.9 598.3,556.0 598.9,556.3 599.6,556.1 600.2,556.0 600.9,556.3 601.5,556.3 602.2,556.1 602.8,556.3 603.5,556.5 604.2,556.4 604.8,556.5 605.5,556.6 606.1,557.0 606.8,557.3 607.4,557.2 608.1,557.3 608.8,557.4 609.4,557.5 610.1,557.7 610.7,557.8 611.4,557.8 612.0,557.9 612.7,558.2 613.4,558.6 614.0,558.8 614.7,558.8 615.3,558.2 616.0,557.9 616.6,558.4 617.3,558.9 617.9,558.9 618.6,558.8 619.3,559.0 619.9,559.3 620.6,559.2 621.2,559.2 621.9,559.5 622.5,560.1 623.2,560.1 623.9,560.0 624.5,560.1 625.2,560.0 625.8,559.9 626.5,560.1 627.1,560.1 627.8,560.2 628.4,560.4 629.1,560.6 629.8,560.4 630.4,560.1 631.1,560.3 631.7,560.7 632.4,561.0 633.0,561.2 633.7,561.3 634.4,561.3 635.0,561.4 635.7,561.9 636.3,562.3 637.0,562.1 637.6,561.6 638.3,561.4 639.0,561.9 639.6,562.5 640.3,562.7 640.9,562.8 641.6,563.0 642.2,563.2 642.9,563.4 643.5,563.2 644.2,563.3 644.9,563.4 645.5,563.4 646.2,563.3 646.8,563.7 647.5,564.0 648.1,564.2 648.8,564.5 649.5,564.6 650.1,564.8 650.8,565.0 651.4,564.8 652.1,564.8 652.7,565.1 653.4,565.2 654.0,565.5 654.7,565.8 655.4,565.8 656.0,566.1 656.7,566.5 657.3,566.5 658.0,566.4 658.6,566.4 659.3,566.5 660.0,566.4 660.6,566.6 661.3,567.0 661.9,567.2 662.6,567.3 663.2,567.7 663.9,567.9 664.5,567.7 665.2,567.4" fill="none" stroke="#72bd45" stroke-width="1.7" stroke-linejoin="round" stroke-linecap="round" />
<polyline points="423.9,554.3 424.5,554.4 425.2,554.7 425.8,555.1 426.5,555.1 427.2,555.1 427.8,554.9 428.5,555.0 429.1,555.1 429.8,555.1 430.4,555.2 431.1,555.4 431.7,555.5 432.4,555.9 433.1,556.1 433.7,555.8 434.4,555.6 435.0,555.8 435.7,556.1 436.3,556.3 437.0,556.4 437.7,556.6 438.3,556.7 439.0,556.5 439.6,556.3 440.3,556.4 440.9,556.7 441.6,557.1 442.2,557.3 442.9,557.2 443.6,557.2 444.2,557.2 444.9,557.3 445.5,557.3 446.2,557.2 446.8,557.4 447.5,557.7 448.2,557.7 448.8,557.6 449.5,557.7 450.1,557.8 450.8,557.9 451.4,558.1 452.1,558.7 452.8,558.7 453.4,558.3 454.1,558.2 454.7,558.1 455.4,558.4 456.0,558.6 456.7,558.6 457.3,558.7 458.0,558.8 458.7,558.8 459.3,558.9 460.0,559.2 460.6,559.5 461.3,559.3 461.9,558.9 462.6,559.2 463.3,559.6 463.9,559.6 464.6,559.6 465.2,559.5 465.9,559.4 466.5,559.5 467.2,559.7 467.8,559.9 468.5,559.9 469.2,559.9 469.8,560.2 470.5,560.7 471.1,561.1 471.8,561.1 472.4,561.3 473.1,562.1 473.8,563.5 474.2,565.0 474.4,565.0 474.5,564.0 474.7,559.1 474.9,551.5 475.0,543.4 475.2,536.5 475.3,532.4 475.5,529.3 475.7,526.5 475.8,524.1 476.0,522.1 476.2,520.1 476.3,517.9 476.5,516.2 476.7,514.5 476.8,512.7 477.0,511.0 477.1,509.3 477.3,507.8 477.5,506.7 477.6,505.7 477.8,504.5 478.0,503.5 478.1,502.8 478.3,502.3 478.5,501.8 478.6,501.2 479.2,498.4 479.9,496.0 480.5,493.8 481.2,492.0 481.9,490.6 482.5,489.5 483.2,488.6 483.8,487.9 484.5,487.3 485.1,487.1 485.8,486.9 486.4,486.6 487.1,486.3 487.8,486.0 488.4,485.5 489.1,485.1 489.7,485.1 490.4,484.9 491.0,484.6 491.7,484.3 492.4,484.0 493.0,484.1 493.7,484.2 494.3,484.0 495.0,483.9 495.6,483.9 496.3,483.7 496.9,483.5 497.6,483.3 498.3,483.1 498.9,483.1 499.6,483.3 500.2,483.4 500.9,483.2 501.5,482.7 502.2,482.4 502.9,482.3 503.5,482.6 504.2,482.6 504.8,482.5 505.5,482.4 506.1,482.3 506.8,482.3 507.5,482.3 508.1,482.2 508.8,481.9 509.4,481.6 510.1,481.6 510.7,481.9 511.4,482.1 512.0,482.1 512.7,481.9 513.4,481.8 514.0,481.8 514.7,482.0 515.3,482.1 516.0,482.0 516.6,481.6 517.3,481.6 518.0,481.7 518.6,482.0 519.3,482.3 519.9,482.3 520.6,482.1 521.2,481.9 521.9,481.7 522.5,481.8 523.2,482.0 523.9,482.0 524.5,481.8 525.2,481.5 525.8,481.5 526.5,481.8 527.1,481.8 527.8,481.8 528.5,481.9 529.1,481.9 529.8,481.7 530.4,481.6 531.1,481.6 531.7,481.7 532.4,481.7 533.1,481.5 533.7,481.3 534.4,481.6 535.0,481.9 535.7,481.5 536.3,481.5 537.0,482.0 537.6,482.3 537.8,482.3 538.0,482.2 538.1,482.1 538.3,482.8 538.5,486.8 538.6,493.3 538.8,500.5 539.0,506.7 539.1,510.6 539.3,513.9 539.5,517.3 539.6,520.1 539.8,522.1 539.9,523.8 540.1,525.0 540.3,525.7 540.4,526.5 540.6,527.7 540.8,528.6 540.9,529.1 541.1,529.4 541.3,529.9 541.4,530.2 541.6,530.1 541.7,530.4 541.9,531.5 542.1,532.3 542.2,532.5 542.4,532.5 542.6,532.8 542.7,533.3 542.9,534.1 543.1,534.7 543.1,534.5 543.8,535.7 544.4,537.2 545.1,538.3 545.7,539.2 546.4,540.1 547.1,540.7 547.7,541.2 548.4,541.5 549.0,541.8 549.7,542.2 550.3,542.6 551.0,542.9 551.6,543.2 552.3,543.5 553.0,543.8 553.6,544.4 554.3,544.9 554.9,545.0 555.6,545.3 556.2,545.7 556.9,546.0 557.6,546.2 558.2,546.3 558.9,546.4 559.5,546.4 560.2,546.3 560.8,546.7 561.5,547.1 562.2,547.3 562.8,547.7 563.5,548.0 564.1,547.9 564.8,548.3 565.4,549.0 566.1,549.1 566.7,549.0 567.4,549.1 568.1,549.2 568.7,549.4 569.4,549.6 570.0,549.9 570.7,550.1 571.3,550.2 572.0,550.4 572.7,550.7 573.3,551.0 574.0,551.1 574.6,550.9 575.3,551.1 575.9,551.6 576.6,551.6 577.2,551.3 577.9,551.8 578.6,552.1 579.2,552.2 579.9,552.4 580.5,552.5 581.2,552.3 581.8,552.4 582.5,552.7 583.2,552.8 583.8,553.0 584.5,553.3 585.1,553.5 585.8,553.5 586.4,553.6 587.1,553.8 587.8,554.0 588.4,554.2 589.1,554.3 589.7,554.5 590.4,554.4 591.0,554.4 591.7,554.4 592.3,554.4 593.0,554.6 593.7,555.0 594.3,555.4 595.0,555.5 595.6,555.4 596.3,555.2 596.9,555.4 597.6,555.8 598.3,555.8 598.9,555.5 599.6,555.6 600.2,556.0 600.9,556.5 601.5,556.9 602.2,557.0 602.8,557.1 603.5,557.2 604.2,557.4 604.8,557.4 605.5,557.3 606.1,557.1 606.8,557.2 607.4,557.3 608.1,557.3 608.8,557.6 609.4,558.0 610.1,558.2 610.7,558.4 611.4,558.4 612.0,558.3 612.7,558.2 613.4,558.0 614.0,558.0 614.7,558.4 615.3,558.8 616.0,558.9 616.6,558.9 617.3,559.0 617.9,559.2 618.6,559.2 619.3,559.2 619.9,559.1 620.6,559.0 621.2,559.2 621.9,559.7 622.5,560.3 623.2,560.4 623.9,560.4 624.5,560.5 625.2,560.7 625.8,560.6 626.5,560.5 627.1,560.2 627.8,560.1 628.4,560.5 629.1,560.9 629.8,561.1 630.4,561.1 631.1,561.3 631.7,561.6 632.4,561.6 633.0,561.4 633.7,561.7 634.4,562.0 635.0,561.8 635.7,561.7 636.3,561.8 637.0,562.1 637.6,562.3 638.3,562.2 639.0,562.5 639.6,562.7 640.3,562.6 640.9,562.7 641.6,563.0 642.2,563.4 642.9,563.7 643.5,563.7 644.2,563.6 644.9,563.7 645.5,564.0 646.2,564.2 646.8,564.3 647.5,564.3 648.1,564.4 648.8,564.4 649.5,564.3 650.1,564.6 650.8,564.9 651.4,565.3 652.1,565.4 652.7,565.4 653.4,565.6 654.0,565.8 654.7,566.3 655.4,566.7 656.0,566.6 656.7,566.5 657.3,566.4 658.0,566.1 658.6,566.1 659.3,566.3 660.0,566.6 660.6,566.7 661.3,566.8 661.9,567.0 662.6,567.3 663.2,567.4 663.9,567.3 664.5,567.1 665.2,567.3" fill="none" stroke="#7e7234" stroke-width="1.7" stroke-linejoin="round" stroke-linecap="round" />
<polyline points="423.9,554.1 424.5,554.5 425.2,554.5 425.8,554.5 426.5,554.7 427.2,555.2 427.8,555.6 428.5,555.7 429.1,555.2 429.8,554.8 430.4,555.2 431.1,555.7 431.7,555.7 432.4,555.7 433.1,555.8 433.7,556.1 434.4,556.4 435.0,556.3 435.7,556.1 436.3,556.1 437.0,556.3 437.7,556.5 438.3,556.5 439.0,556.6 439.6,556.6 440.3,556.6 440.9,556.8 441.6,556.9 442.2,556.9 442.9,556.9 443.6,556.9 444.2,556.9 444.9,557.2 445.5,557.2 446.2,557.1 446.8,557.3 447.5,557.6 448.2,558.0 448.8,558.3 449.5,558.1 450.1,557.9 450.8,557.8 451.4,557.8 452.1,557.8 452.8,557.7 453.4,557.9 454.1,558.1 454.7,558.3 455.4,558.5 456.0,558.5 456.7,558.4 457.3,558.7 458.0,558.7 458.7,558.9 459.3,559.1 460.0,558.9 460.6,558.9 461.3,559.0 461.9,559.2 462.6,559.4 463.3,559.3 463.9,559.1 464.6,559.1 465.2,559.4 465.9,559.7 466.5,559.5 467.2,559.4 467.8,559.6 468.5,559.9 469.2,560.2 469.8,560.3 470.5,560.2 471.1,560.3 471.8,560.9 472.4,561.8 473.1,562.2 473.8,562.9 474.2,564.4 474.4,564.8 474.5,563.3 474.7,558.2 474.9,550.8 475.0,542.7 475.2,535.8 475.3,531.4 475.5,527.8 475.7,524.9 475.8,522.3 476.0,519.9 476.2,517.7 476.3,515.9 476.5,514.1 476.7,511.9 476.8,509.8 477.0,507.8 477.1,505.9 477.3,504.2 477.5,503.3 477.6,502.5 477.8,501.5 478.0,500.6 478.1,500.0 478.3,499.2 478.5,498.3 478.6,497.9 479.2,495.6 479.9,493.9 480.5,492.5 481.2,491.1 481.9,489.6 482.5,488.4 483.2,487.7 483.8,487.0 484.5,486.1 485.1,485.2 485.8,484.5 486.4,483.5 487.1,482.6 487.8,482.2 488.4,482.0 489.1,481.4 489.7,480.8 490.4,480.7 491.0,480.8 491.7,481.0 492.4,480.8 493.0,480.4 493.7,480.2 494.3,480.3 495.0,480.1 495.6,479.9 496.3,480.0 496.9,479.9 497.6,479.3 498.3,479.0 498.9,478.8 499.6,478.6 500.2,478.4 500.9,478.5 501.5,478.4 502.2,478.1 502.9,477.9 503.5,478.2 504.2,478.4 504.8,478.5 505.5,478.7 506.1,478.7 506.8,478.7 507.5,478.3 508.1,477.9 508.8,477.7 509.4,477.6 510.1,477.7 510.7,477.9 511.4,477.8 512.0,477.7 512.7,477.6 513.4,477.3 514.0,477.2 514.7,477.5 515.3,477.7 516.0,477.4 516.6,477.1 517.3,477.2 518.0,477.2 518.6,477.0 519.3,477.3 519.9,477.5 520.6,477.2 521.2,476.9 521.9,477.1 522.5,477.2 523.2,477.1 523.9,477.1 524.5,477.3 525.2,477.1 525.8,476.8 526.5,476.7 527.1,476.7 527.8,476.9 528.5,476.9 529.1,476.8 529.8,476.7 530.4,476.8 531.1,477.0 531.7,477.2 532.4,477.2 533.1,477.2 533.7,477.0 534.4,476.9 535.0,477.1 535.7,477.1 536.3,476.8 537.0,476.8 537.6,476.9 537.8,477.1 538.0,477.1 538.1,476.7 538.3,477.5 538.5,482.6 538.6,490.1 538.8,497.8 539.0,504.4 539.1,508.9 539.3,512.6 539.5,515.5 539.6,518.0 539.8,520.6 539.9,522.6 540.1,524.0 540.3,525.1 540.4,525.7 540.6,526.1 540.8,526.9 540.9,527.8 541.1,528.6 541.3,529.2 541.4,529.7 541.6,529.7 541.7,529.7 541.9,530.3 542.1,530.9 542.2,531.2 542.4,531.7 542.6,532.4 542.7,532.9 542.9,533.3 543.1,533.5 543.1,533.5 543.8,535.4 544.4,536.8 545.1,537.6 545.7,538.7 546.4,539.7 547.1,540.3 547.7,540.7 548.4,540.9 549.0,541.1 549.7,541.3 550.3,541.8 551.0,542.3 551.6,542.6 552.3,542.6 553.0,542.9 553.6,543.5 554.3,543.8 554.9,543.8 555.6,544.2 556.2,545.0 556.9,545.5 557.6,545.4 558.2,545.4 558.9,545.8 559.5,546.2 560.2,546.4 560.8,546.3 561.5,546.6 562.2,547.1 562.8,547.4 563.5,547.6 564.1,547.9 564.8,548.1 565.4,548.0 566.1,548.1 566.7,548.2 567.4,548.3 568.1,548.7 568.7,549.0 569.4,549.2 570.0,549.4 570.7,549.5 571.3,549.9 572.0,550.1 572.7,549.9 573.3,550.2 574.0,550.9 574.6,551.1 575.3,550.9 575.9,550.7 576.6,550.7 577.2,551.0 577.9,551.3 578.6,551.6 579.2,551.9 579.9,551.9 580.5,551.9 581.2,552.2 581.8,552.4 582.5,552.4 583.2,552.4 583.8,552.6 584.5,552.8 585.1,553.0 585.8,553.3 586.4,553.6 587.1,553.7 587.8,553.7 588.4,553.8 589.1,553.8 589.7,553.7 590.4,553.7 591.0,554.0 591.7,554.3 592.3,554.4 593.0,554.5 593.7,554.8 594.3,555.2 595.0,555.2 595.6,555.1 596.3,555.0 596.9,555.2 597.6,555.4 598.3,555.5 598.9,555.7 599.6,555.7 600.2,555.5 600.9,555.6 601.5,555.8 602.2,556.2 602.8,556.5 603.5,556.6 604.2,556.6 604.8,556.9 605.5,557.2 606.1,557.2 606.8,557.3 607.4,557.7 608.1,557.7 608.8,557.3 609.4,557.4 610.1,557.8 610.7,557.9 611.4,557.6 612.0,557.5 612.7,557.9 613.4,558.3 614.0,558.2 614.7,558.1 615.3,558.5 616.0,558.7 616.6,558.7 617.3,558.7 617.9,558.9 618.6,559.2 619.3,559.5 619.9,559.5 620.6,559.1 621.2,558.9 621.9,559.0 622.5,559.2 623.2,559.6 623.9,559.7 624.5,559.8 625.2,559.7 625.8,559.8 626.5,560.2 627.1,560.4 627.8,560.5 628.4,560.5 629.1,560.6 629.8,560.8 630.4,560.6 631.1,560.5 631.7,560.6 632.4,560.5 633.0,560.5 633.7,560.9 634.4,561.1 635.0,561.2 635.7,561.4 636.3,561.8 637.0,561.9 637.6,561.9 638.3,562.0 639.0,562.0 639.6,562.1 640.3,562.4 640.9,562.5 641.6,562.7 642.2,562.8 642.9,562.8 643.5,563.0 644.2,563.4 644.9,563.7 645.5,563.8 646.2,564.0 646.8,563.9 647.5,563.6 648.1,563.7 648.8,564.3 649.5,564.7 650.1,564.7 650.8,564.7 651.4,565.0 652.1,565.1 652.7,564.9 653.4,565.0 654.0,565.6 654.7,565.9 655.4,565.8 656.0,566.0 656.7,566.3 657.3,566.3 658.0,566.3 658.6,566.5 659.3,566.6 660.0,567.0 660.6,567.2 661.3,567.0 661.9,566.9 662.6,567.1 663.2,567.3 663.9,567.2 664.5,567.4 665.2,567.5" fill="none" stroke="#3a4ca2" stroke-width="1.7" stroke-linejoin="round" stroke-linecap="round" />
<polyline points="423.9,554.3 424.5,554.1 425.2,554.0 425.8,554.5 426.5,554.7 427.2,554.8 427.8,554.8 428.5,554.6 429.1,554.7 429.8,555.0 430.4,555.4 431.1,555.6 431.7,555.6 432.4,555.7 433.1,555.8 433.7,555.9 434.4,556.2 435.0,556.3 435.7,556.1 436.3,556.2 437.0,556.3 437.7,556.5 438.3,556.6 439.0,556.6 439.6,556.5 440.3,556.5 440.9,556.6 441.6,556.6 442.2,556.9 442.9,557.1 443.6,556.9 444.2,556.9 444.9,557.0 445.5,557.1 446.2,557.3 446.8,557.7 447.5,558.0 448.2,557.9 448.8,557.9 449.5,558.2 450.1,558.5 450.8,558.3 451.4,558.0 452.1,558.0 452.8,558.1 453.4,558.0 454.1,557.9 454.7,557.9 455.4,558.1 456.0,558.4 456.7,558.5 457.3,558.5 458.0,558.5 458.7,558.6 459.3,558.6 460.0,558.6 460.6,558.7 461.3,558.8 461.9,558.9 462.6,559.0 463.3,558.9 463.9,558.8 464.6,558.9 465.2,559.2 465.9,559.4 466.5,559.5 467.2,559.8 467.8,560.2 468.5,560.2 469.2,559.9 469.8,560.4 470.5,561.0 471.1,561.0 471.8,561.1 472.4,561.5 473.1,561.7 473.8,562.5 474.2,563.9 474.4,564.3 474.5,563.2 474.7,558.1 474.9,550.8 475.0,542.8 475.2,535.6 475.3,531.0 475.5,527.6 475.7,524.7 475.8,521.8 476.0,519.2 476.2,516.8 476.3,514.8 476.5,512.8 476.7,510.5 476.8,508.5 477.0,506.9 477.1,505.2 477.3,503.6 477.5,502.1 477.6,500.8 477.8,499.8 478.0,499.0 478.1,498.7 478.3,498.3 478.5,497.8 478.6,497.3 479.2,494.6 479.9,492.5 480.5,491.0 481.2,489.7 481.9,488.6 482.5,487.6 483.2,486.6 483.8,485.6 484.5,484.6 485.1,483.7 485.8,482.7 486.4,482.0 487.1,481.3 487.8,480.9 488.4,480.4 489.1,479.7 489.7,479.3 490.4,479.1 491.0,478.9 491.7,478.6 492.4,478.3 493.0,478.1 493.7,477.8 494.3,477.6 495.0,477.7 495.6,477.7 496.3,477.5 496.9,477.4 497.6,477.3 498.3,477.0 498.9,476.7 499.6,476.7 500.2,476.7 500.9,476.3 501.5,476.1 502.2,476.2 502.9,476.4 503.5,476.2 504.2,475.6 504.8,475.4 505.5,475.7 506.1,475.8 506.8,475.6 507.5,475.4 508.1,475.4 508.8,475.5 509.4,475.5 510.1,475.4 510.7,475.4 511.4,475.3 512.0,475.3 512.7,475.4 513.4,475.4 514.0,475.2 514.7,475.3 515.3,475.5 516.0,475.3 516.6,475.1 517.3,474.8 518.0,474.7 518.6,475.0 519.3,475.3 519.9,475.5 520.6,475.5 521.2,475.3 521.9,475.1 522.5,475.0 523.2,474.8 523.9,474.7 524.5,474.8 525.2,474.9 525.8,475.0 526.5,475.1 527.1,475.0 527.8,474.9 528.5,475.4 529.1,475.7 529.8,475.2 530.4,474.6 531.1,474.9 531.7,475.1 532.4,475.0 533.1,474.8 533.7,474.9 534.4,475.1 535.0,475.3 535.7,475.3 536.3,475.2 537.0,474.9 537.6,474.6 537.8,474.7 538.0,475.1 538.1,475.4 538.3,476.5 538.5,481.2 538.6,488.5 538.8,496.7 539.0,503.9 539.1,508.8 539.3,512.1 539.5,514.8 539.6,517.3 539.8,519.6 539.9,521.8 540.1,523.2 540.3,524.0 540.4,524.7 540.6,525.4 540.8,526.2 540.9,527.0 541.1,527.7 541.3,528.4 541.4,528.9 541.6,529.3 541.7,529.7 541.9,529.7 542.1,529.9 542.2,530.8 542.4,531.4 542.6,531.6 542.7,532.0 542.9,532.4 543.1,533.0 543.1,533.2 543.8,534.6 544.4,535.9 545.1,536.9 545.7,538.0 546.4,538.9 547.1,539.8 547.7,540.1 548.4,540.2 549.0,540.5 549.7,541.0 550.3,541.5 551.0,541.6 551.6,542.0 552.3,542.7 553.0,542.7 553.6,542.7 554.3,543.2 554.9,543.6 555.6,543.8 556.2,544.2 556.9,544.6 557.6,545.1 558.2,545.3 558.9,545.6 559.5,545.9 560.2,546.0 560.8,546.1 561.5,546.5 562.2,547.0 562.8,547.1 563.5,547.2 564.1,547.6 564.8,547.5 565.4,547.4 566.1,547.6 566.7,548.1 567.4,548.5 568.1,548.5 568.7,548.5 569.4,548.6 570.0,549.0 570.7,549.4 571.3,549.7 572.0,549.8 572.7,549.7 573.3,549.7 574.0,549.9 574.6,549.9 575.3,550.2 575.9,550.8 576.6,551.1 577.2,551.2 577.9,551.3 578.6,551.4 579.2,551.3 579.9,551.3 580.5,551.4 581.2,551.8 581.8,552.1 582.5,552.2 583.2,552.5 583.8,552.6 584.5,552.6 585.1,552.9 585.8,553.2 586.4,553.1 587.1,552.9 587.8,553.2 588.4,553.4 589.1,553.4 589.7,553.3 590.4,553.4 591.0,553.7 591.7,553.9 592.3,554.2 593.0,554.3 593.7,554.5 594.3,554.8 595.0,554.9 595.6,554.9 596.3,555.0 596.9,555.4 597.6,555.8 598.3,555.8 598.9,555.6 599.6,555.5 600.2,555.7 600.9,555.9 601.5,555.9 602.2,556.1 602.8,556.2 603.5,556.1 604.2,556.5 604.8,556.8 605.5,556.7 606.1,556.7 606.8,556.8 607.4,556.8 608.1,557.0 608.8,557.1 609.4,557.0 610.1,557.1 610.7,557.6 611.4,557.7 612.0,557.5 612.7,557.6 613.4,558.0 614.0,558.1 614.7,558.0 615.3,558.2 616.0,558.4 616.6,558.4 617.3,558.6 617.9,558.9 618.6,559.0 619.3,558.9 619.9,558.8 620.6,558.8 621.2,558.9 621.9,559.1 622.5,559.2 623.2,559.2 623.9,559.5 624.5,559.8 625.2,560.1 625.8,560.1 626.5,559.8 627.1,560.1 627.8,560.4 628.4,560.4 629.1,560.4 629.8,560.6 630.4,560.5 631.1,560.6 631.7,560.6 632.4,560.7 633.0,560.8 633.7,560.9 634.4,561.1 635.0,561.2 635.7,561.1 636.3,561.3 637.0,561.6 637.6,561.8 638.3,561.9 639.0,562.2 639.6,562.1 640.3,562.3 640.9,562.7 641.6,562.7 642.2,562.7 642.9,562.8 643.5,562.8 644.2,563.1 644.9,563.5 645.5,563.9 646.2,563.8 646.8,563.7 647.5,563.8 648.1,563.9 648.8,564.0 649.5,563.8 650.1,564.1 650.8,564.6 651.4,565.0 652.1,565.4 652.7,565.3 653.4,565.0 654.0,565.2 654.7,565.5 655.4,565.7 656.0,565.6 656.7,565.7 657.3,565.8 658.0,565.7 658.6,565.7 659.3,566.2 660.0,566.6 660.6,566.6 661.3,566.7 661.9,567.1 662.6,567.3 663.2,567.2 663.9,567.1 664.5,567.2 665.2,567.4" fill="none" stroke="#a443b0" stroke-width="1.7" stroke-linejoin="round" stroke-linecap="round" />
<polyline points="423.9,554.3 424.5,554.4 425.2,554.5 425.8,554.6 426.5,555.0 427.2,555.2 427.8,555.0 428.5,554.6 429.1,554.8 429.8,555.5 430.4,555.8 431.1,555.7 431.7,555.7 432.4,555.8 433.1,555.8 433.7,555.8 434.4,556.1 435.0,556.1 435.7,555.9 436.3,556.2 437.0,556.5 437.7,556.4 438.3,556.5 439.0,556.8 439.6,556.9 440.3,557.1 440.9,557.1 441.6,557.1 442.2,557.3 442.9,557.6 443.6,557.5 444.2,557.6 444.9,557.7 445.5,557.6 446.2,557.5 446.8,557.4 447.5,557.3 448.2,557.5 448.8,557.7 449.5,557.9 450.1,558.2 450.8,558.4 451.4,558.3 452.1,558.4 452.8,558.6 453.4,558.2 454.1,557.9 454.7,558.0 455.4,558.2 456.0,558.5 456.7,558.7 457.3,558.7 458.0,558.8 458.7,558.9 459.3,558.7 460.0,558.8 460.6,559.0 461.3,559.0 461.9,559.0 462.6,558.9 463.3,558.9 463.9,559.4 464.6,559.5 465.2,559.1 465.9,559.0 466.5,559.6 467.2,560.1 467.8,560.2 468.5,560.1 469.2,560.2 469.8,560.3 470.5,560.5 471.1,560.9 471.8,561.4 472.4,561.8 473.1,562.0 473.8,562.6 474.2,563.5 474.4,563.9 474.5,562.7 474.7,557.6 474.9,550.1 475.0,541.9 475.2,534.8 475.3,530.1 475.5,526.5 475.7,523.0 475.8,519.9 476.0,517.0 476.2,514.2 476.3,511.6 476.5,509.5 476.7,507.5 476.8,505.3 477.0,502.8 477.1,500.6 477.3,499.0 477.5,497.9 477.6,496.9 477.8,495.9 478.0,495.0 478.1,494.4 478.3,493.8 478.5,493.1 478.6,492.4 479.2,489.8 479.9,487.9 480.5,486.3 481.2,485.0 481.9,483.9 482.5,482.9 483.2,481.7 483.8,480.6 484.5,479.5 485.1,478.4 485.8,477.4 486.4,476.5 487.1,475.9 487.8,475.4 488.4,475.0 489.1,474.5 489.7,473.8 490.4,473.6 491.0,473.3 491.7,472.8 492.4,472.8 493.0,472.7 493.7,472.4 494.3,472.1 495.0,471.8 495.6,471.5 496.3,471.3 496.9,471.2 497.6,471.0 498.3,470.9 498.9,470.6 499.6,470.5 500.2,470.8 500.9,470.6 501.5,470.4 502.2,470.8 502.9,470.7 503.5,470.2 504.2,469.8 504.8,469.5 505.5,469.4 506.1,469.4 506.8,469.3 507.5,469.2 508.1,469.2 508.8,469.0 509.4,468.7 510.1,468.6 510.7,468.5 511.4,468.4 512.0,468.5 512.7,468.4 513.4,468.2 514.0,468.1 514.7,468.1 515.3,468.1 516.0,467.9 516.6,467.7 517.3,468.0 518.0,468.1 518.6,467.8 519.3,467.7 519.9,467.8 520.6,467.7 521.2,467.5 521.9,467.6 522.5,467.7 523.2,467.6 523.9,467.7 524.5,467.8 525.2,467.8 525.8,467.8 526.5,467.9 527.1,468.1 527.8,468.0 528.5,467.9 529.1,468.0 529.8,468.2 530.4,468.2 531.1,468.3 531.7,468.4 532.4,468.6 533.1,468.5 533.7,468.5 534.4,468.7 535.0,468.9 535.7,468.9 536.3,468.8 537.0,468.7 537.6,468.8 537.8,468.8 538.0,469.0 538.1,469.1 538.3,470.3 538.5,476.0 538.6,484.3 538.8,493.7 539.0,502.0 539.1,506.7 539.3,509.7 539.5,512.6 539.6,515.4 539.8,517.5 539.9,519.2 540.1,520.6 540.3,521.8 540.4,522.8 540.6,523.4 540.8,524.1 540.9,525.5 541.1,526.6 541.3,526.9 541.4,527.1 541.6,527.6 541.7,528.1 541.9,528.9 542.1,529.5 542.2,529.6 542.4,529.9 542.6,530.6 542.7,531.1 542.9,531.4 543.1,531.7 543.1,531.9 543.8,533.5 544.4,534.9 545.1,536.2 545.7,537.2 546.4,537.6 547.1,537.8 547.7,538.5 548.4,539.4 549.0,539.8 549.7,539.9 550.3,540.3 551.0,540.7 551.6,541.1 552.3,541.5 553.0,541.7 553.6,541.9 554.3,542.2 554.9,542.4 555.6,542.8 556.2,543.2 556.9,543.4 557.6,543.7 558.2,544.0 558.9,544.4 559.5,544.7 560.2,544.9 560.8,545.3 561.5,545.7 562.2,545.7 562.8,545.9 563.5,546.2 564.1,546.5 564.8,546.5 565.4,546.6 566.1,547.1 566.7,547.7 567.4,547.8 568.1,547.8 568.7,548.1 569.4,548.3 570.0,548.3 570.7,548.4 571.3,548.7 572.0,549.0 572.7,549.3 573.3,549.6 574.0,549.8 574.6,550.0 575.3,550.0 575.9,550.1 576.6,550.3 577.2,550.4 577.9,550.6 578.6,550.9 579.2,551.2 579.9,551.1 580.5,551.2 581.2,551.6 581.8,551.6 582.5,551.6 583.2,552.1 583.8,552.4 584.5,552.6 585.1,552.6 585.8,552.4 586.4,552.6 587.1,553.0 587.8,553.1 588.4,553.1 589.1,553.3 589.7,553.5 590.4,553.5 591.0,553.7 591.7,553.9 592.3,553.9 593.0,554.1 593.7,554.2 594.3,554.1 595.0,554.0 595.6,554.3 596.3,554.6 596.9,555.0 597.6,555.2 598.3,555.2 598.9,555.2 599.6,555.3 600.2,555.3 600.9,555.1 601.5,555.0 602.2,555.2 602.8,555.5 603.5,555.4 604.2,555.6 604.8,556.2 605.5,556.5 606.1,556.3 606.8,556.2 607.4,556.5 608.1,556.7 608.8,556.7 609.4,556.9 610.1,557.1 610.7,557.1 611.4,557.5 612.0,558.0 612.7,557.9 613.4,557.8 614.0,557.9 614.7,557.8 615.3,557.9 616.0,558.0 616.6,558.3 617.3,558.7 617.9,558.8 618.6,558.7 619.3,558.5 619.9,558.4 620.6,558.7 621.2,559.1 621.9,559.4 622.5,559.3 623.2,559.2 623.9,559.2 624.5,559.1 625.2,559.1 625.8,559.3 626.5,559.7 627.1,559.9 627.8,559.8 628.4,560.0 629.1,560.3 629.8,560.3 630.4,560.2 631.1,560.1 631.7,560.2 632.4,560.3 633.0,560.3 633.7,560.6 634.4,560.9 635.0,561.0 635.7,561.1 636.3,561.3 637.0,561.2 637.6,561.4 638.3,561.8 639.0,561.9 639.6,561.6 640.3,561.5 640.9,561.7 641.6,561.8 642.2,561.9 642.9,562.1 643.5,562.3 644.2,562.7 644.9,563.1 645.5,563.2 646.2,563.2 646.8,563.1 647.5,563.1 648.1,563.3 648.8,563.4 649.5,563.3 650.1,563.5 650.8,564.1 651.4,564.3 652.1,564.3 652.7,564.8 653.4,565.4 654.0,565.4 654.7,565.2 655.4,565.4 656.0,565.5 656.7,565.4 657.3,565.5 658.0,565.9 658.6,565.9 659.3,565.8 660.0,565.8 660.6,566.1 661.3,566.3 661.9,566.3 662.6,566.3 663.2,566.4 663.9,566.6 664.5,566.9 665.2,567.1" fill="none" stroke="#8fd1de" stroke-width="1.7" stroke-linejoin="round" stroke-linecap="round" />
<polyline points="423.9,554.4 424.5,554.6 425.2,554.6 425.8,554.3 426.5,554.2 427.2,554.6 427.8,555.0 428.5,555.1 429.1,555.1 429.8,555.1 430.4,555.1 431.1,555.0 431.7,555.4 432.4,555.6 433.1,555.8 433.7,556.2 434.4,556.3 435.0,555.9 435.7,555.6 436.3,555.9 437.0,556.7 437.7,557.3 438.3,557.0 439.0,556.7 439.6,556.7 440.3,556.7 440.9,556.9 441.6,557.0 442.2,557.0 442.9,557.3 443.6,557.5 444.2,557.5 444.9,557.4 445.5,557.6 446.2,557.9 446.8,557.9 447.5,557.8 448.2,557.6 448.8,557.5 449.5,557.6 450.1,557.8 450.8,557.9 451.4,558.2 452.1,558.4 452.8,558.2 453.4,558.1 454.1,558.2 454.7,558.4 455.4,558.6 456.0,558.6 456.7,558.5 457.3,558.5 458.0,558.4 458.7,558.6 459.3,559.3 460.0,559.5 460.6,559.2 461.3,559.1 461.9,559.3 462.6,559.5 463.3,559.7 463.9,559.8 464.6,559.5 465.2,559.3 465.9,559.3 466.5,559.1 467.2,559.3 467.8,559.8 468.5,559.8 469.2,560.0 469.8,560.6 470.5,560.8 471.1,560.8 471.8,561.1 472.4,561.4 473.1,562.2 473.8,563.3 474.2,564.3 474.4,564.2 474.5,563.0 474.7,557.8 474.9,549.7 475.0,540.7 475.2,532.8 475.3,527.3 475.5,523.1 475.7,519.4 475.8,516.2 476.0,513.2 476.2,510.6 476.3,507.9 476.5,505.0 476.7,502.4 476.8,499.8 477.0,497.3 477.1,494.9 477.3,492.6 477.5,490.7 477.6,489.6 477.8,488.8 478.0,487.8 478.1,487.2 478.3,486.9 478.5,486.5 478.6,486.2 479.2,484.3 479.9,482.5 480.5,480.7 481.2,479.2 481.9,478.1 482.5,477.2 483.2,476.3 483.8,475.6 484.5,475.1 485.1,474.4 485.8,473.4 486.4,472.5 487.1,472.0 487.8,472.0 488.4,471.4 489.1,470.5 489.7,470.0 490.4,469.7 491.0,469.5 491.7,469.3 492.4,468.6 493.0,468.1 493.7,467.8 494.3,467.7 495.0,467.7 495.6,467.3 496.3,466.9 496.9,466.7 497.6,466.4 498.3,466.1 498.9,466.2 499.6,466.0 500.2,465.6 500.9,465.3 501.5,465.4 502.2,465.3 502.9,465.2 503.5,465.1 504.2,464.9 504.8,464.8 505.5,464.7 506.1,464.4 506.8,464.4 507.5,464.6 508.1,464.5 508.8,464.4 509.4,464.4 510.1,464.2 510.7,464.0 511.4,464.1 512.0,464.3 512.7,464.4 513.4,464.2 514.0,464.1 514.7,464.1 515.3,464.0 516.0,463.6 516.6,463.5 517.3,463.4 518.0,463.2 518.6,463.1 519.3,463.2 519.9,463.2 520.6,463.4 521.2,463.4 521.9,463.3 522.5,463.1 523.2,462.8 523.9,462.4 524.5,462.2 525.2,462.3 525.8,462.3 526.5,462.6 527.1,462.7 527.8,462.3 528.5,461.9 529.1,461.4 529.8,461.2 530.4,461.3 531.1,461.2 531.7,461.1 532.4,461.2 533.1,461.1 533.7,460.9 534.4,460.9 535.0,461.4 535.7,461.6 536.3,461.2 537.0,460.8 537.6,460.8 537.8,461.0 538.0,461.1 538.1,461.0 538.3,462.5 538.5,469.3 538.6,479.0 538.8,489.3 539.0,498.4 539.1,503.5 539.3,506.7 539.5,509.9 539.6,512.8 539.8,514.8 539.9,516.7 540.1,518.2 540.3,519.1 540.4,520.1 540.6,521.2 540.8,522.3 540.9,523.3 541.1,524.2 541.3,525.1 541.4,525.8 541.6,526.4 541.7,527.0 541.9,527.3 542.1,527.6 542.2,528.2 542.4,528.8 542.6,529.3 542.7,529.8 542.9,530.1 543.1,530.4 543.1,530.7 543.8,532.3 544.4,533.6 545.1,534.7 545.7,535.5 546.4,536.3 547.1,537.0 547.7,537.3 548.4,537.6 549.0,538.3 549.7,538.9 550.3,539.3 551.0,539.5 551.6,539.7 552.3,539.9 553.0,540.2 553.6,540.9 554.3,541.7 554.9,542.0 555.6,542.0 556.2,542.3 556.9,542.8 557.6,543.0 558.2,543.1 558.9,543.5 559.5,543.5 560.2,543.5 560.8,543.8 561.5,544.0 562.2,544.5 562.8,544.9 563.5,545.1 564.1,545.4 564.8,545.8 565.4,546.2 566.1,546.2 566.7,546.2 567.4,546.3 568.1,546.6 568.7,547.0 569.4,547.3 570.0,547.4 570.7,547.6 571.3,547.6 572.0,547.6 572.7,547.8 573.3,547.9 574.0,548.0 574.6,548.3 575.3,548.5 575.9,548.7 576.6,548.8 577.2,549.0 577.9,549.3 578.6,549.6 579.2,549.9 579.9,550.1 580.5,550.2 581.2,550.1 581.8,550.2 582.5,550.7 583.2,551.0 583.8,551.1 584.5,551.0 585.1,551.0 585.8,551.2 586.4,551.6 587.1,552.0 587.8,551.9 588.4,551.8 589.1,552.2 589.7,552.5 590.4,552.4 591.0,552.2 591.7,552.3 592.3,552.6 593.0,552.9 593.7,553.0 594.3,553.3 595.0,553.4 595.6,553.2 596.3,553.2 596.9,553.6 597.6,553.7 598.3,553.7 598.9,553.9 599.6,554.1 600.2,554.2 600.9,554.3 601.5,554.5 602.2,554.7 602.8,554.8 603.5,555.0 604.2,555.3 604.8,555.3 605.5,555.1 606.1,555.1 606.8,555.6 607.4,556.3 608.1,556.2 608.8,555.6 609.4,555.3 610.1,555.6 610.7,556.0 611.4,556.3 612.0,556.2 612.7,556.1 613.4,556.3 614.0,556.6 614.7,556.5 615.3,556.7 616.0,557.3 616.6,557.2 617.3,556.9 617.9,557.0 618.6,557.4 619.3,557.4 619.9,557.3 620.6,557.5 621.2,557.9 621.9,557.8 622.5,557.7 623.2,557.9 623.9,558.0 624.5,557.8 625.2,558.1 625.8,558.6 626.5,558.9 627.1,559.1 627.8,559.0 628.4,558.6 629.1,558.3 629.8,558.6 630.4,558.8 631.1,558.9 631.7,559.2 632.4,559.3 633.0,559.2 633.7,559.2 634.4,559.2 635.0,559.5 635.7,560.0 636.3,560.2 637.0,560.3 637.6,560.3 638.3,560.4 639.0,560.6 639.6,560.7 640.3,560.5 640.9,560.5 641.6,561.0 642.2,561.5 642.9,561.6 643.5,561.8 644.2,562.0 644.9,562.0 645.5,561.9 646.2,562.0 646.8,562.2 647.5,562.5 648.1,562.4 648.8,562.2 649.5,562.6 650.1,562.7 650.8,562.6 651.4,563.0 652.1,563.4 652.7,563.5 653.4,563.8 654.0,563.8 654.7,563.8 655.4,564.2 656.0,564.5 656.7,564.3 657.3,564.4 658.0,564.8 658.6,564.8 659.3,564.6 660.0,564.7 660.6,564.9 661.3,565.2 661.9,565.5 662.6,565.6 663.2,565.6 663.9,565.8 664.5,566.3 665.2,566.4" fill="none" stroke="#7d1a1c" stroke-width="1.7" stroke-linejoin="round" stroke-linecap="round" />
<polyline points="423.9,554.2 424.5,554.3 425.2,554.5 425.8,554.7 426.5,555.0 427.2,555.1 427.8,555.0 428.5,555.0 429.1,555.3 429.8,555.5 430.4,555.4 431.1,555.5 431.7,555.6 432.4,555.7 433.1,555.8 433.7,555.8 434.4,555.7 435.0,555.6 435.7,555.8 436.3,556.3 437.0,556.6 437.7,556.6 438.3,556.5 439.0,556.6 439.6,556.9 440.3,556.9 440.9,556.7 441.6,556.8 442.2,556.9 442.9,557.0 443.6,557.2 444.2,557.3 444.9,557.5 445.5,557.4 446.2,557.1 446.8,557.4 447.5,557.7 448.2,557.7 448.8,557.7 449.5,557.9 450.1,558.1 450.8,558.2 451.4,558.3 452.1,558.4 452.8,558.3 453.4,558.3 454.1,558.4 454.7,558.6 455.4,558.6 456.0,558.6 456.7,558.6 457.3,558.7 458.0,558.8 458.7,558.7 459.3,558.5 460.0,558.6 460.6,558.7 461.3,558.8 461.9,558.9 462.6,558.9 463.3,559.1 463.9,559.3 464.6,559.4 465.2,559.4 465.9,559.3 466.5,559.6 467.2,560.1 467.8,560.2 468.5,560.2 469.2,560.2 469.8,560.2 470.5,560.2 471.1,560.4 471.8,561.0 472.4,561.9 473.1,562.4 473.8,562.7 474.2,563.2 474.4,563.2 474.5,561.8 474.7,555.7 474.9,546.4 475.0,536.0 475.2,526.6 475.3,519.7 475.5,513.1 475.7,506.1 475.8,499.4 476.0,493.5 476.2,488.4 476.3,484.0 476.5,480.8 476.7,478.5 476.8,476.8 477.0,475.2 477.1,473.8 477.3,472.5 477.5,471.5 477.6,470.9 477.8,470.4 478.0,469.8 478.1,469.0 478.3,468.3 478.5,467.9 478.6,467.7 479.2,466.3 479.9,465.1 480.5,463.8 481.2,463.0 481.9,462.4 482.5,461.4 483.2,460.6 483.8,460.1 484.5,459.5 485.1,458.9 485.8,458.2 486.4,457.7 487.1,457.2 487.8,456.9 488.4,456.7 489.1,456.6 489.7,456.4 490.4,456.0 491.0,455.4 491.7,455.0 492.4,455.1 493.0,455.2 493.7,455.1 494.3,454.8 495.0,454.4 495.6,454.2 496.3,454.3 496.9,454.0 497.6,453.6 498.3,453.5 498.9,453.5 499.6,453.3 500.2,453.2 500.9,453.2 501.5,452.9 502.2,452.7 502.9,452.8 503.5,452.7 504.2,452.6 504.8,452.5 505.5,452.4 506.1,452.4 506.8,452.5 507.5,452.4 508.1,452.2 508.8,452.3 509.4,452.5 510.1,452.2 510.7,451.8 511.4,451.9 512.0,452.2 512.7,452.4 513.4,452.1 514.0,451.7 514.7,451.8 515.3,452.0 516.0,452.1 516.6,452.1 517.3,452.2 518.0,452.3 518.6,452.1 519.3,452.0 519.9,451.8 520.6,451.6 521.2,451.8 521.9,451.8 522.5,451.6 523.2,451.6 523.9,451.5 524.5,451.6 525.2,451.8 525.8,451.9 526.5,451.8 527.1,451.7 527.8,451.8 528.5,451.8 529.1,451.7 529.8,451.9 530.4,452.0 531.1,452.0 531.7,452.1 532.4,452.1 533.1,452.1 533.7,452.4 534.4,452.3 535.0,451.9 535.7,452.0 536.3,452.1 537.0,452.0 537.6,451.8 537.8,452.1 538.0,452.3 538.1,452.2 538.3,453.8 538.5,461.3 538.6,472.2 538.8,484.0 539.0,494.1 539.1,499.8 539.3,503.3 539.5,506.6 539.6,509.8 539.8,512.3 539.9,514.3 540.1,516.2 540.3,517.9 540.4,519.1 540.6,520.0 540.8,521.2 540.9,522.3 541.1,522.9 541.3,523.7 541.4,524.8 541.6,525.8 541.7,526.3 541.9,526.8 542.1,527.8 542.2,528.5 542.4,528.7 542.6,528.8 542.7,529.2 542.9,529.7 543.1,530.2 543.1,530.3 543.8,531.4 544.4,532.4 545.1,533.8 545.7,535.0 546.4,535.8 547.1,536.3 547.7,537.0 548.4,537.7 549.0,538.2 549.7,538.8 550.3,539.2 551.0,539.7 551.6,539.9 552.3,539.8 553.0,540.1 553.6,540.5 554.3,541.1 554.9,541.7 555.6,542.1 556.2,542.4 556.9,542.8 557.6,542.9 558.2,543.1 558.9,543.4 559.5,543.7 560.2,544.0 560.8,544.2 561.5,544.1 562.2,544.1 562.8,544.6 563.5,545.2 564.1,545.4 564.8,545.4 565.4,545.6 566.1,545.7 566.7,546.0 567.4,546.5 568.1,547.0 568.7,547.3 569.4,547.2 570.0,547.3 570.7,547.8 571.3,548.0 572.0,548.2 572.7,548.2 573.3,548.2 574.0,548.3 574.6,548.4 575.3,548.9 575.9,549.4 576.6,549.2 577.2,549.1 577.9,549.5 578.6,550.1 579.2,550.4 579.9,550.5 580.5,550.6 581.2,550.6 581.8,550.5 582.5,550.8 583.2,551.0 583.8,551.2 584.5,551.4 585.1,551.4 585.8,551.4 586.4,551.7 587.1,552.1 587.8,552.5 588.4,552.7 589.1,552.6 589.7,552.5 590.4,552.6 591.0,552.5 591.7,552.8 592.3,553.2 593.0,553.2 593.7,553.3 594.3,553.7 595.0,554.2 595.6,554.1 596.3,553.9 596.9,553.9 597.6,554.3 598.3,554.4 598.9,554.3 599.6,554.4 600.2,554.7 600.9,554.6 601.5,554.7 602.2,555.0 602.8,555.3 603.5,555.3 604.2,555.3 604.8,555.4 605.5,555.7 606.1,556.1 606.8,556.2 607.4,556.1 608.1,556.4 608.8,556.6 609.4,556.4 610.1,556.1 610.7,556.4 611.4,556.8 612.0,557.1 612.7,557.2 613.4,557.1 614.0,557.3 614.7,557.3 615.3,557.1 616.0,557.1 616.6,557.5 617.3,557.9 617.9,557.9 618.6,557.8 619.3,557.9 619.9,557.9 620.6,557.9 621.2,558.1 621.9,558.4 622.5,558.8 623.2,558.7 623.9,558.4 624.5,558.7 625.2,559.0 625.8,559.0 626.5,559.2 627.1,559.2 627.8,559.1 628.4,559.1 629.1,559.2 629.8,559.7 630.4,560.0 631.1,559.8 631.7,559.8 632.4,559.9 633.0,559.8 633.7,559.9 634.4,559.9 635.0,559.8 635.7,559.8 636.3,560.3 637.0,560.8 637.6,561.0 638.3,561.1 639.0,561.2 639.6,561.0 640.3,561.0 640.9,561.4 641.6,561.6 642.2,562.0 642.9,562.1 643.5,562.1 644.2,562.3 644.9,562.4 645.5,562.3 646.2,562.3 646.8,562.4 647.5,562.5 648.1,562.8 648.8,563.4 649.5,563.9 650.1,564.0 650.8,564.1 651.4,564.4 652.1,564.6 652.7,564.7 653.4,564.5 654.0,564.4 654.7,564.7 655.4,564.9 656.0,564.9 656.7,565.1 657.3,565.3 658.0,565.3 658.6,565.4 659.3,565.7 660.0,565.7 660.6,565.4 661.3,565.5 661.9,565.8 662.6,566.1 663.2,566.3 663.9,566.6 664.5,566.8 665.2,566.6" fill="none" stroke="#2a9a48" stroke-width="1.7" stroke-linejoin="round" stroke-linecap="round" />
</g>
<text x="30.98" y="662.00" font-size="20.5" textLength="10.70" lengthAdjust="spacingAndGlyphs" fill="#231f20" stroke="#231f20" stroke-width="0.3" >E</text>
<path d="M70.3,672.1 H301.4 V830.3 H70.3 Z" fill="none" stroke="#3a3a3a" stroke-width="1.6"/>
<line x1="66.80" y1="823.40" x2="70.30" y2="823.40" stroke="#231f20" stroke-width="1.5" />
<text x="53.70" y="829.60" font-size="16.5" textLength="9.18" lengthAdjust="spacingAndGlyphs" fill="#231f20" stroke="#231f20" stroke-width="0.3" >4</text>
<line x1="66.80" y1="800.07" x2="70.30" y2="800.07" stroke="#231f20" stroke-width="1.5" />
<text x="53.90" y="806.27" font-size="16.5" textLength="9.18" lengthAdjust="spacingAndGlyphs" fill="#231f20" stroke="#231f20" stroke-width="0.3" >5</text>
<line x1="66.80" y1="776.74" x2="70.30" y2="776.74" stroke="#231f20" stroke-width="1.5" />
<text x="53.94" y="782.94" font-size="16.5" textLength="9.18" lengthAdjust="spacingAndGlyphs" fill="#231f20" stroke="#231f20" stroke-width="0.3" >6</text>
<line x1="66.80" y1="753.41" x2="70.30" y2="753.41" stroke="#231f20" stroke-width="1.5" />
<text x="54.07" y="759.61" font-size="16.5" textLength="9.18" lengthAdjust="spacingAndGlyphs" fill="#231f20" stroke="#231f20" stroke-width="0.3" >7</text>
<line x1="66.80" y1="730.08" x2="70.30" y2="730.08" stroke="#231f20" stroke-width="1.5" />
<text x="53.94" y="736.28" font-size="16.5" textLength="9.18" lengthAdjust="spacingAndGlyphs" fill="#231f20" stroke="#231f20" stroke-width="0.3" >8</text>
<line x1="66.80" y1="706.75" x2="70.30" y2="706.75" stroke="#231f20" stroke-width="1.5" />
<text x="53.98" y="712.95" font-size="16.5" textLength="9.18" lengthAdjust="spacingAndGlyphs" fill="#231f20" stroke="#231f20" stroke-width="0.3" >9</text>
<line x1="66.80" y1="683.42" x2="70.30" y2="683.42" stroke="#231f20" stroke-width="1.5" />
<text x="44.70" y="689.62" font-size="16.5" textLength="18.35" lengthAdjust="spacingAndGlyphs" fill="#231f20" stroke="#231f20" stroke-width="0.3" >10</text>
<line x1="98.90" y1="830.30" x2="98.90" y2="834.10" stroke="#231f20" stroke-width="1.5" />
<text x="94.30" y="849.60" font-size="16.5" textLength="9.18" lengthAdjust="spacingAndGlyphs" fill="#231f20" stroke="#231f20" stroke-width="0.3" >0</text>
<line x1="133.74" y1="830.30" x2="133.74" y2="834.10" stroke="#231f20" stroke-width="1.5" />
<text x="129.16" y="849.60" font-size="16.5" textLength="9.18" lengthAdjust="spacingAndGlyphs" fill="#231f20" stroke="#231f20" stroke-width="0.3" >2</text>
<line x1="168.58" y1="830.30" x2="168.58" y2="834.10" stroke="#231f20" stroke-width="1.5" />
<text x="164.04" y="849.60" font-size="16.5" textLength="9.18" lengthAdjust="spacingAndGlyphs" fill="#231f20" stroke="#231f20" stroke-width="0.3" >4</text>
<line x1="203.42" y1="830.30" x2="203.42" y2="834.10" stroke="#231f20" stroke-width="1.5" />
<text x="198.78" y="849.60" font-size="16.5" textLength="9.18" lengthAdjust="spacingAndGlyphs" fill="#231f20" stroke="#231f20" stroke-width="0.3" >6</text>
<line x1="238.26" y1="830.30" x2="238.26" y2="834.10" stroke="#231f20" stroke-width="1.5" />
<text x="233.68" y="849.60" font-size="16.5" textLength="9.18" lengthAdjust="spacingAndGlyphs" fill="#231f20" stroke="#231f20" stroke-width="0.3" >8</text>
<line x1="273.10" y1="830.30" x2="273.10" y2="834.10" stroke="#231f20" stroke-width="1.5" />
<text x="263.63" y="849.60" font-size="16.5" textLength="18.35" lengthAdjust="spacingAndGlyphs" fill="#231f20" stroke="#231f20" stroke-width="0.3" >10</text>
<text x="151.96" y="868.70" font-size="17.3" textLength="69.70" lengthAdjust="spacingAndGlyphs" fill="#231f20" stroke="#231f20" stroke-width="0.3" >ACF [μM]</text>
<text x="44.89" y="808.40" font-size="18.3" textLength="109.22" lengthAdjust="spacingAndGlyphs" fill="#231f20" stroke="#231f20" stroke-width="0.3" transform="rotate(-90 46.20 808.40)">Response (RU)</text>
<text x="79.37" y="688.10" font-size="13.0" textLength="64.85" lengthAdjust="spacingAndGlyphs" fill="#231f20" stroke="#231f20" stroke-width="0.2" >BSG + ACF</text>
<path d="M99.25,799.70 L105.45,805.90 L99.25,812.10 L93.05,805.90 Z" fill="#000000" opacity="0.92"/>
<path d="M99.60,774.04 L105.80,780.24 L99.60,786.44 L93.40,780.24 Z" fill="#e2262b" opacity="0.92"/>
<path d="M100.29,758.87 L106.49,765.07 L100.29,771.27 L94.09,765.07 Z" fill="#7cc242" opacity="0.92"/>
<path d="M101.69,743.71 L107.89,749.91 L101.69,756.11 L95.49,749.91 Z" fill="#7f7a2e" opacity="0.92"/>
<path d="M104.30,733.21 L110.50,739.41 L104.30,745.61 L98.10,739.41 Z" fill="#3553a8" opacity="0.92"/>
<path d="M109.87,730.41 L116.07,736.61 L109.87,742.81 L103.67,736.61 Z" fill="#b147b5" opacity="0.92"/>
<path d="M120.68,715.71 L126.88,721.91 L120.68,728.11 L114.48,721.91 Z" fill="#86d3e3" opacity="0.92"/>
<path d="M142.45,703.58 L148.65,709.78 L142.45,715.98 L136.25,709.78 Z" fill="#c8c8c8" opacity="0.92"/>
<path d="M186.00,700.55 L192.20,706.75 L186.00,712.95 L179.80,706.75 Z" fill="#8b1c1f" opacity="0.92"/>
<path d="M273.10,681.89 L279.30,688.09 L273.10,694.29 L266.90,688.09 Z" fill="#238a45" opacity="0.92"/>
<polyline points="98.9,795.4 98.9,795.4 98.9,795.4 98.9,795.3 98.9,795.2 98.9,795.0 98.9,794.9 98.9,794.7 98.9,794.4 98.9,794.1 99.0,793.8 99.0,793.4 99.0,793.0 99.0,792.6 99.0,792.1 99.0,791.5 99.0,791.0 99.1,790.4 99.1,789.8 99.1,789.1 99.1,788.4 99.2,787.7 99.2,786.9 99.2,786.1 99.3,785.3 99.3,784.5 99.3,783.6 99.4,782.7 99.4,781.8 99.4,780.9 99.5,780.0 99.5,779.0 99.6,778.1 99.6,777.1 99.7,776.1 99.7,775.1 99.8,774.1 99.8,773.1 99.9,772.1 99.9,771.1 100.0,770.0 100.1,769.0 100.1,768.0 100.2,767.0 100.3,766.0 100.3,765.0 100.4,764.0 100.5,763.0 100.6,762.0 100.6,761.0 100.7,760.1 100.8,759.1 100.9,758.1 101.0,757.2 101.0,756.3 101.1,755.3 101.2,754.4 101.3,753.5 101.4,752.7 101.5,751.8 101.6,750.9 101.7,750.1 101.8,749.2 101.9,748.4 102.0,747.6 102.1,746.8 102.2,746.0 102.3,745.3 102.5,744.5 102.6,743.8 102.7,743.0 102.8,742.3 102.9,741.6 103.1,740.9 103.2,740.3 103.3,739.6 103.4,738.9 103.6,738.3 103.7,737.7 103.8,737.1 104.0,736.5 104.1,735.9 104.3,735.3 104.4,734.7 104.6,734.2 104.7,733.6 104.9,733.1 105.0,732.6 105.2,732.0 105.3,731.5 105.5,731.0 105.6,730.6 105.8,730.1 106.0,729.6 106.1,729.2 106.3,728.7 106.5,728.3 106.7,727.9 106.8,727.4 107.0,727.0 107.2,726.6 107.4,726.2 107.6,725.9 107.8,725.5 107.9,725.1 108.1,724.7 108.3,724.4 108.5,724.0 108.7,723.7 108.9,723.4 109.1,723.0 109.3,722.7 109.5,722.4 109.8,722.1 110.0,721.8 110.2,721.5 110.4,721.2 110.6,720.9 110.8,720.6 111.1,720.4 111.3,720.1 111.5,719.8 111.7,719.6 112.0,719.3 112.2,719.1 112.5,718.8 112.7,718.6 112.9,718.3 113.2,718.1 113.4,717.9 113.7,717.7 113.9,717.4 114.2,717.2 114.4,717.0 114.7,716.8 115.0,716.6 115.2,716.4 115.5,716.2 115.8,716.0 116.0,715.8 116.3,715.7 116.6,715.5 116.8,715.3 117.1,715.1 117.4,715.0 117.7,714.8 118.0,714.6 118.3,714.5 118.6,714.3 118.8,714.1 119.1,714.0 119.4,713.8 119.7,713.7 120.0,713.5 120.4,713.4 120.7,713.3 121.0,713.1 121.3,713.0 121.6,712.9 121.9,712.7 122.2,712.6 122.6,712.5 122.9,712.3 123.2,712.2 123.5,712.1 123.9,712.0 124.2,711.9 124.5,711.7 124.9,711.6 125.2,711.5 125.6,711.4 125.9,711.3 126.3,711.2 126.6,711.1 127.0,711.0 127.3,710.9 127.7,710.8 128.0,710.7 128.4,710.6 128.8,710.5 129.1,710.4 129.5,710.3 129.9,710.2 130.3,710.1 130.6,710.0 131.0,710.0 131.4,709.9 131.8,709.8 132.2,709.7 132.6,709.6 133.0,709.6 133.3,709.5 133.7,709.4 134.1,709.3 134.6,709.2 135.0,709.2 135.4,709.1 135.8,709.0 136.2,709.0 136.6,708.9 137.0,708.8 137.4,708.7 137.9,708.7 138.3,708.6 138.7,708.5 139.2,708.5 139.6,708.4 140.0,708.4 140.5,708.3 140.9,708.2 141.3,708.2 141.8,708.1 142.2,708.1 142.7,708.0 143.1,707.9 143.6,707.9 144.1,707.8 144.5,707.8 145.0,707.7 145.4,707.7 145.9,707.6 146.4,707.6 146.9,707.5 147.3,707.5 147.8,707.4 148.3,707.4 148.8,707.3 149.3,707.3 149.8,707.2 150.3,707.2 150.7,707.1 151.2,707.1 151.7,707.0 152.2,707.0 152.7,706.9 153.3,706.9 153.8,706.9 154.3,706.8 154.8,706.8 155.3,706.7 155.8,706.7 156.4,706.7 156.9,706.6 157.4,706.6 157.9,706.5 158.5,706.5 159.0,706.5 159.6,706.4 160.1,706.4 160.6,706.4 161.2,706.3 161.7,706.3 162.3,706.2 162.8,706.2 163.4,706.2 164.0,706.1 164.5,706.1 165.1,706.1 165.7,706.0 166.2,706.0 166.8,706.0 167.4,706.0 168.0,705.9 168.5,705.9 169.1,705.9 169.7,705.8 170.3,705.8 170.9,705.8 171.5,705.7 172.1,705.7 172.7,705.7 173.3,705.7 173.9,705.6 174.5,705.6 175.1,705.6 175.7,705.5 176.3,705.5 176.9,705.5 177.6,705.5 178.2,705.4 178.8,705.4 179.4,705.4 180.1,705.4 180.7,705.3 181.4,705.3 182.0,705.3 182.6,705.3 183.3,705.2 183.9,705.2 184.6,705.2 185.2,705.2 185.9,705.2 186.5,705.1 187.2,705.1 187.9,705.1 188.5,705.1 189.2,705.0 189.9,705.0 190.6,705.0 191.2,705.0 191.9,705.0 192.6,704.9 193.3,704.9 194.0,704.9 194.7,704.9 195.4,704.9 196.1,704.8 196.8,704.8 197.5,704.8 198.2,704.8 198.9,704.8 199.6,704.8 200.3,704.7 201.0,704.7 201.7,704.7 202.5,704.7 203.2,704.7 203.9,704.6 204.6,704.6 205.4,704.6 206.1,704.6 206.8,704.6 207.6,704.6 208.3,704.5 209.1,704.5 209.8,704.5 210.6,704.5 211.3,704.5 212.1,704.5 212.9,704.4 213.6,704.4 214.4,704.4 215.2,704.4 215.9,704.4 216.7,704.4 217.5,704.4 218.3,704.3 219.0,704.3 219.8,704.3 220.6,704.3 221.4,704.3 222.2,704.3 223.0,704.3 223.8,704.2 224.6,704.2 225.4,704.2 226.2,704.2 227.0,704.2 227.8,704.2 228.7,704.2 229.5,704.2 230.3,704.1 231.1,704.1 231.9,704.1 232.8,704.1 233.6,704.1 234.4,704.1 235.3,704.1 236.1,704.1 237.0,704.0 237.8,704.0 238.7,704.0 239.5,704.0 240.4,704.0 241.2,704.0 242.1,704.0 243.0,704.0 243.8,704.0 244.7,703.9 245.6,703.9 246.5,703.9 247.3,703.9 248.2,703.9 249.1,703.9 250.0,703.9 250.9,703.9 251.8,703.9 252.7,703.8 253.6,703.8 254.5,703.8 255.4,703.8 256.3,703.8 257.2,703.8 258.1,703.8 259.0,703.8 259.9,703.8 260.9,703.8 261.8,703.8 262.7,703.7 263.6,703.7 264.6,703.7 265.5,703.7 266.4,703.7 267.4,703.7 268.3,703.7 269.3,703.7 270.2,703.7 271.2,703.7 272.1,703.7 273.1,703.6" fill="none" stroke="#1a1a1a" stroke-width="1.2" stroke-linejoin="round" stroke-linecap="round" />
<text x="152.24" y="791.00" font-size="8.5" textLength="19.34" lengthAdjust="spacingAndGlyphs" fill="#231f20" stroke="#231f20" stroke-width="0.1" >BSG</text>
<text x="127.74" y="815.50" font-size="8.5" textLength="49.15" lengthAdjust="spacingAndGlyphs" fill="#231f20" stroke="#231f20" stroke-width="0.1" >6XHIS-BSG</text>
<text x="178.36" y="792.30" font-size="14.2" textLength="10.83" lengthAdjust="spacingAndGlyphs" fill="#231f20" stroke="#231f20" stroke-width="0.2" >K</text>
<text x="187.25" y="798.50" font-size="14.2" textLength="10.97" lengthAdjust="spacingAndGlyphs" fill="#231f20" stroke="#231f20" stroke-width="0.2" >D</text>
<text x="196.80" y="792.30" font-size="14.2" textLength="102.17" lengthAdjust="spacingAndGlyphs" fill="#231f20" stroke="#231f20" stroke-width="0.2" >=0.16 ± 0.07 μM</text>
<text x="179.16" y="817.10" font-size="14.2" textLength="10.83" lengthAdjust="spacingAndGlyphs" fill="#231f20" stroke="#231f20" stroke-width="0.2" >K</text>
<text x="188.05" y="823.00" font-size="14.2" textLength="10.97" lengthAdjust="spacingAndGlyphs" fill="#231f20" stroke="#231f20" stroke-width="0.2" >D</text>
<text x="196.77" y="817.10" font-size="14.2" textLength="97.42" lengthAdjust="spacingAndGlyphs" fill="#231f20" stroke="#231f20" stroke-width="0.2" >=0.23 ± 0.1 μM</text>
<text x="356.18" y="661.80" font-size="20.5" textLength="10.53" lengthAdjust="spacingAndGlyphs" fill="#231f20" stroke="#231f20" stroke-width="0.3" >F</text>
<line x1="428.20" y1="657.80" x2="428.20" y2="825.00" stroke="#231f20" stroke-width="1.7" />
<line x1="424.10" y1="824.20" x2="428.20" y2="824.20" stroke="#231f20" stroke-width="1.7" />
<text x="396.01" y="831.40" font-size="17.0" textLength="23.94" lengthAdjust="spacingAndGlyphs" fill="#231f20" stroke="#231f20" stroke-width="0.3" >0.0</text>
<line x1="424.10" y1="769.00" x2="428.20" y2="769.00" stroke="#231f20" stroke-width="1.7" />
<text x="396.01" y="776.20" font-size="17.0" textLength="23.98" lengthAdjust="spacingAndGlyphs" fill="#231f20" stroke="#231f20" stroke-width="0.3" >0.5</text>
<line x1="424.10" y1="713.80" x2="428.20" y2="713.80" stroke="#231f20" stroke-width="1.7" />
<text x="395.37" y="721.00" font-size="17.0" textLength="24.59" lengthAdjust="spacingAndGlyphs" fill="#231f20" stroke="#231f20" stroke-width="0.3" >1.0</text>
<line x1="424.10" y1="658.60" x2="428.20" y2="658.60" stroke="#231f20" stroke-width="1.7" />
<text x="395.37" y="665.80" font-size="17.0" textLength="24.64" lengthAdjust="spacingAndGlyphs" fill="#231f20" stroke="#231f20" stroke-width="0.3" >1.5</text>
<line x1="427.40" y1="824.20" x2="664.30" y2="824.20" stroke="#231f20" stroke-width="1.7" />
<line x1="448.80" y1="824.20" x2="448.80" y2="829.20" stroke="#231f20" stroke-width="1.7" />
<text x="439.77" y="847.00" font-size="16.5" textLength="18.35" lengthAdjust="spacingAndGlyphs" fill="#231f20" stroke="#231f20" stroke-width="0.3" >40</text>
<line x1="520.30" y1="824.20" x2="520.30" y2="829.20" stroke="#231f20" stroke-width="1.7" />
<text x="511.12" y="847.00" font-size="16.5" textLength="18.35" lengthAdjust="spacingAndGlyphs" fill="#231f20" stroke="#231f20" stroke-width="0.3" >50</text>
<line x1="591.80" y1="824.20" x2="591.80" y2="829.20" stroke="#231f20" stroke-width="1.7" />
<text x="582.54" y="847.00" font-size="16.5" textLength="18.35" lengthAdjust="spacingAndGlyphs" fill="#231f20" stroke="#231f20" stroke-width="0.3" >60</text>
<line x1="663.30" y1="824.20" x2="663.30" y2="829.20" stroke="#231f20" stroke-width="1.7" />
<text x="654.02" y="847.00" font-size="16.5" textLength="18.35" lengthAdjust="spacingAndGlyphs" fill="#231f20" stroke="#231f20" stroke-width="0.3" >70</text>
<text x="492.62" y="864.90" font-size="17.0" textLength="130.04" lengthAdjust="spacingAndGlyphs" fill="#231f20" stroke="#231f20" stroke-width="0.3" >Temperature (°C)</text>
<text x="388.53" y="833.60" font-size="18.3" textLength="184.89" lengthAdjust="spacingAndGlyphs" fill="#231f20" stroke="#231f20" stroke-width="0.3" transform="rotate(-90 390.00 833.60)">Fraction non-denatured</text>
<text x="434.68" y="671.30" font-size="14.5" textLength="64.21" lengthAdjust="spacingAndGlyphs" fill="#231f20" stroke="#231f20" stroke-width="0.2" >U87-MG</text>
<polyline points="439.5,713.1 441.0,713.2 442.5,713.4 443.9,713.5 445.4,713.7 446.9,713.8 448.4,714.0 449.8,714.1 451.3,714.3 452.8,714.4 454.3,714.6 455.7,714.8 457.2,714.9 458.7,715.1 460.2,715.3 461.6,715.5 463.1,715.7 464.6,715.9 466.1,716.1 467.6,716.3 469.0,716.5 470.5,716.7 472.0,716.9 473.5,717.1 474.9,717.4 476.4,717.6 477.9,717.9 479.4,718.1 480.8,718.4 482.3,718.6 483.8,718.9 485.3,719.2 486.7,719.5 488.2,719.7 489.7,720.0 491.2,720.4 492.7,720.7 494.1,721.0 495.6,721.3 497.1,721.7 498.6,722.0 500.0,722.3 501.5,722.7 503.0,723.1 504.5,723.5 505.9,723.8 507.4,724.2 508.9,724.7 510.4,725.1 511.8,725.5 513.3,725.9 514.8,726.4 516.3,726.8 517.7,727.3 519.2,727.8 520.7,728.3 522.2,728.7 523.7,729.3 525.1,729.8 526.6,730.3 528.1,730.8 529.6,731.4 531.0,732.0 532.5,732.5 534.0,733.1 535.5,733.7 536.9,734.3 538.4,734.9 539.9,735.6 541.4,736.2 542.8,736.9 544.3,737.5 545.8,738.2 547.3,738.9 548.8,739.6 550.2,740.4 551.7,741.1 553.2,741.8 554.7,742.6 556.1,743.4 557.6,744.2 559.1,745.0 560.6,745.8 562.0,746.6 563.5,747.5 565.0,748.3 566.5,749.2 567.9,750.1 569.4,751.0 570.9,752.0 572.4,752.9 573.8,753.8 575.3,754.8 576.8,755.8 578.3,756.8 579.8,757.8 581.2,758.9 582.7,759.9 584.2,761.0 585.7,762.1 587.1,763.2 588.6,764.3 590.1,765.4 591.6,766.6 593.0,767.8 594.5,768.9 596.0,770.2 597.5,771.4 598.9,772.6 600.4,773.9 601.9,775.2 603.4,776.5 604.9,777.8 606.3,779.1 607.8,780.5 609.3,781.8 610.8,783.2 612.2,784.7 613.7,786.1 615.2,787.5 616.7,789.0 618.1,790.5 619.6,792.0 621.1,793.6 622.6,795.1 624.0,796.7 625.5,798.3 627.0,799.9 628.5,801.5 629.9,803.2 631.4,804.9 632.9,806.6 634.4,808.3 635.9,810.0 637.3,811.8 638.8,813.6 640.3,815.4 641.8,817.2 643.2,819.1 644.7,821.0" fill="none" stroke="#ef6a2e" stroke-width="1.9" stroke-linejoin="round" stroke-linecap="round" />
<polyline points="439.5,712.8 440.9,712.8 442.2,712.8 443.6,712.8 444.9,712.8 446.3,712.8 447.7,712.8 449.0,712.8 450.4,712.9 451.7,712.9 453.1,712.9 454.4,712.9 455.8,712.9 457.2,712.9 458.5,713.0 459.9,713.0 461.2,713.0 462.6,713.0 463.9,713.1 465.3,713.1 466.7,713.2 468.0,713.2 469.4,713.2 470.7,713.3 472.1,713.4 473.5,713.4 474.8,713.5 476.2,713.6 477.5,713.6 478.9,713.7 480.2,713.8 481.6,713.9 483.0,714.0 484.3,714.2 485.7,714.3 487.0,714.5 488.4,714.6 489.8,714.8 491.1,715.0 492.5,715.2 493.8,715.4 495.2,715.7 496.5,716.0 497.9,716.3 499.3,716.6 500.6,716.9 502.0,717.3 503.3,717.7 504.7,718.2 506.0,718.7 507.4,719.2 508.8,719.8 510.1,720.4 511.5,721.1 512.8,721.8 514.2,722.6 515.6,723.4 516.9,724.3 518.3,725.3 519.6,726.3 521.0,727.4 522.3,728.6 523.7,729.8 525.1,731.1 526.4,732.5 527.8,734.0 529.1,735.6 530.5,737.2 531.9,738.9 533.2,740.7 534.6,742.6 535.9,744.5 537.3,746.5 538.6,748.6 540.0,750.7 541.4,752.8 542.7,755.0 544.1,757.3 545.4,759.5 546.8,761.8 548.1,764.1 549.5,766.3 550.9,768.6 552.2,770.8 553.6,773.0 554.9,775.2 556.3,777.3 557.7,779.3 559.0,781.3 560.4,783.3 561.7,785.1 563.1,786.9 564.4,788.6 565.8,790.3 567.2,791.8 568.5,793.3 569.9,794.7 571.2,796.0 572.6,797.3 573.9,798.5 575.3,799.6 576.7,800.6 578.0,801.5 579.4,802.4 580.7,803.3 582.1,804.1 583.5,804.8 584.8,805.4 586.2,806.1 587.5,806.6 588.9,807.2 590.2,807.7 591.6,808.1 593.0,808.5 594.3,808.9 595.7,809.3 597.0,809.6 598.4,809.9 599.8,810.2 601.1,810.4 602.5,810.6 603.8,810.9 605.2,811.1 606.5,811.2 607.9,811.4 609.3,811.5 610.6,811.7 612.0,811.8 613.3,811.9 614.7,812.0 616.0,812.1 617.4,812.2 618.8,812.3 620.1,812.4 621.5,812.4 622.8,812.5 624.2,812.6 625.6,812.6 626.9,812.7 628.3,812.7 629.6,812.7 631.0,812.8 632.3,812.8 633.7,812.8 635.1,812.9 636.4,812.9 637.8,812.9 639.1,812.9 640.5,813.0 641.9,813.0" fill="none" stroke="#000" stroke-width="1.9" stroke-linejoin="round" stroke-linecap="round" />
<rect x="435.41" y="709.70" width="8.2" height="8.2" fill="#ef6a2e"/>
<rect x="456.14" y="712.46" width="8.2" height="8.2" fill="#ef6a2e"/>
<rect x="490.46" y="693.36" width="8.2" height="8.2" fill="#ef6a2e"/>
<rect x="531.22" y="729.79" width="8.2" height="8.2" fill="#ef6a2e"/>
<rect x="564.11" y="756.07" width="8.2" height="8.2" fill="#ef6a2e"/>
<rect x="586.99" y="766.00" width="8.2" height="8.2" fill="#ef6a2e"/>
<rect x="602.00" y="759.71" width="8.2" height="8.2" fill="#ef6a2e"/>
<rect x="614.87" y="784.77" width="8.2" height="8.2" fill="#ef6a2e"/>
<circle cx="439.51" cy="713.80" r="4.2" fill="#000"/>
<circle cx="460.24" cy="707.18" r="4.2" fill="#000"/>
<circle cx="494.56" cy="716.56" r="4.2" fill="#000"/>
<circle cx="535.32" cy="746.37" r="4.2" fill="#000"/>
<circle cx="568.21" cy="792.74" r="4.2" fill="#000"/>
<circle cx="591.09" cy="810.18" r="4.2" fill="#000"/>
<circle cx="606.10" cy="809.85" r="4.2" fill="#000"/>
<circle cx="618.97" cy="811.50" r="4.2" fill="#000"/>
<circle cx="641.85" cy="821.99" r="4.2" fill="#000"/>
<circle cx="573.3" cy="671.5" r="6" fill="#111"/>
<text x="584.53" y="676.60" font-size="17.0" textLength="49.86" lengthAdjust="spacingAndGlyphs" fill="#231f20" stroke="#231f20" stroke-width="0.3" >DMSO</text>
<rect x="568.2" y="684.3" width="10.5" height="10.5" fill="#ef6a2e"/>
<text x="586.36" y="694.50" font-size="17.0" textLength="29.63" lengthAdjust="spacingAndGlyphs" fill="#231f20" stroke="#231f20" stroke-width="0.3" >ACF</text>
<path d="M643.6,665 A8,8 0 0,1 659.6,665 L659.6,731 L643.6,731 Z" fill="#111"/>
<circle cx="651.1" cy="743.1" r="14.6" fill="#111"/>
<clipPath id="thclip"><path d="M646.6,664.5 A5,5 0 0,1 656.6,664.5 L656.6,731 A11.7,11.7 0 1,1 646.6,731 Z"/></clipPath>
<g clip-path="url(#thclip)">
<rect x="640" y="662.0" width="24" height="10.7" fill="#ef5c45"/>
<rect x="640" y="672.4" width="24" height="9.6" fill="#d8282b"/>
<rect x="640" y="681.7" width="24" height="11.4" fill="#e8473a"/>
<rect x="640" y="692.8" width="24" height="9.7" fill="#f4d66c"/>
<rect x="640" y="702.2" width="24" height="11.6" fill="#2fb36b"/>
<rect x="640" y="713.5" width="24" height="9.3" fill="#2fb36b"/>
<rect x="640" y="722.5" width="24" height="9.3" fill="#2fb36b"/>
<rect x="636" y="731.5" width="30" height="8.5" fill="#9b99d3"/>
<rect x="636" y="740" width="30" height="20" fill="#4b4ca6"/>
</g>
<text x="651.10" y="669.00" font-size="5" fill="#333" stroke="#333" stroke-width="0" text-anchor="middle">67</text>
<text x="651.10" y="678.85" font-size="5" fill="#333" stroke="#333" stroke-width="0" text-anchor="middle">63.8</text>
<text x="651.10" y="689.05" font-size="5" fill="#333" stroke="#333" stroke-width="0" text-anchor="middle">62.0</text>
<text x="651.10" y="699.30" font-size="5" fill="#333" stroke="#333" stroke-width="0" text-anchor="middle">59.9</text>
<text x="651.10" y="709.65" font-size="5" fill="#333" stroke="#333" stroke-width="0" text-anchor="middle">56.7</text>
<text x="651.10" y="719.80" font-size="5" fill="#333" stroke="#333" stroke-width="0" text-anchor="middle">52.1</text>
<text x="651.10" y="728.80" font-size="5" fill="#333" stroke="#333" stroke-width="0" text-anchor="middle">46.4</text>
<text x="651.10" y="737.60" font-size="5" fill="#333" stroke="#333" stroke-width="0" text-anchor="middle">41.6</text>
<text x="651.10" y="744.60" font-size="5" fill="#222" stroke="#222" stroke-width="0" text-anchor="middle">38.7</text>
<text x="651.10" y="751.60" font-size="5" fill="#7777cc" stroke="#7777cc" stroke-width="0" text-anchor="middle">37.0</text>
<text x="32.77" y="884.30" font-size="20.0" textLength="14.54" lengthAdjust="spacingAndGlyphs" fill="#231f20" stroke="#231f20" stroke-width="0.3" >G</text>
<text x="13.26" y="908.10" font-size="14.7" textLength="41.97" lengthAdjust="spacingAndGlyphs" fill="#231f20" stroke="#231f20" stroke-width="0.2" >Celsius</text>
<text x="70.81" y="908.10" font-size="14.7" textLength="14.58" lengthAdjust="spacingAndGlyphs" fill="#231f20" stroke="#231f20" stroke-width="0.2" >37</text>
<text x="97.51" y="908.10" font-size="14.7" textLength="25.57" lengthAdjust="spacingAndGlyphs" fill="#231f20" stroke="#231f20" stroke-width="0.2" >38.7</text>
<text x="129.20" y="908.10" font-size="14.7" textLength="26.09" lengthAdjust="spacingAndGlyphs" fill="#231f20" stroke="#231f20" stroke-width="0.2" >41.6</text>
<text x="161.19" y="908.10" font-size="14.7" textLength="26.50" lengthAdjust="spacingAndGlyphs" fill="#231f20" stroke="#231f20" stroke-width="0.2" >46.4</text>
<text x="193.17" y="908.10" font-size="14.7" textLength="25.99" lengthAdjust="spacingAndGlyphs" fill="#231f20" stroke="#231f20" stroke-width="0.2" >52.1</text>
<text x="225.07" y="908.10" font-size="14.7" textLength="25.60" lengthAdjust="spacingAndGlyphs" fill="#231f20" stroke="#231f20" stroke-width="0.2" >56.7</text>
<text x="257.67" y="908.10" font-size="14.7" textLength="25.64" lengthAdjust="spacingAndGlyphs" fill="#231f20" stroke="#231f20" stroke-width="0.2" >59.9</text>
<text x="289.55" y="908.10" font-size="14.7" textLength="25.25" lengthAdjust="spacingAndGlyphs" fill="#231f20" stroke="#231f20" stroke-width="0.2" >62.0</text>
<text x="321.12" y="908.10" font-size="14.7" textLength="26.37" lengthAdjust="spacingAndGlyphs" fill="#231f20" stroke="#231f20" stroke-width="0.2" >63.8</text>
<text x="353.72" y="908.10" font-size="14.7" textLength="26.30" lengthAdjust="spacingAndGlyphs" fill="#231f20" stroke="#231f20" stroke-width="0.2" >67.0</text>
<text x="15.98" y="932.30" font-size="14.7" textLength="40.56" lengthAdjust="spacingAndGlyphs" fill="#231f20" stroke="#231f20" stroke-width="0.2" >DMSO</text>
<text x="31.67" y="966.30" font-size="14.7" textLength="24.22" lengthAdjust="spacingAndGlyphs" fill="#231f20" stroke="#231f20" stroke-width="0.2" >ACF</text>
<filter id="bl1" x="-50%" y="-50%" width="200%" height="200%"><feGaussianBlur stdDeviation="0.8"/></filter>
<filter id="bl2" x="-50%" y="-50%" width="200%" height="200%"><feGaussianBlur stdDeviation="2.0"/></filter>
<rect x="60.0" y="913.2" width="313.9" height="26.2" fill="#e2e2e2"/>
<rect x="60.0" y="948.4" width="313.9" height="27.6" fill="#e2e2e2"/>
<line x1="377.40" y1="911.70" x2="377.40" y2="976.00" stroke="#231f20" stroke-width="2.0" />
<text x="396.26" y="959.60" font-size="16.3" textLength="36.94" lengthAdjust="spacingAndGlyphs" fill="#231f20" stroke="#231f20" stroke-width="0.3" transform="rotate(-90 397.70 959.60)">BSG</text>
<g filter="url(#bl2)">
<ellipse cx="78.7" cy="918" rx="5" ry="4" fill="#c4c4c4"/>
<ellipse cx="112.5" cy="918" rx="5" ry="4" fill="#c4c4c4"/>
<ellipse cx="145" cy="918" rx="5" ry="4" fill="#c4c4c4"/>
<ellipse cx="81" cy="952" rx="6" ry="3" fill="#bdbdbd"/>
<ellipse cx="114.2" cy="952" rx="6" ry="3" fill="#bdbdbd"/>
<ellipse cx="115" cy="972" rx="6" ry="3" fill="#b0b0b0"/>
</g>
<g filter="url(#bl1)">
<rect x="66.9" y="922.0" width="23.7" height="12.8" rx="6.0" fill="#080808" opacity="1.0"/>
<rect x="101.2" y="921.1" width="22.5" height="16.6" rx="7.5" fill="#080808" opacity="1.0"/>
<rect x="135.6" y="923.5" width="18.9" height="12.3" rx="6.0" fill="#080808" opacity="1.0"/>
<defs><linearGradient id="g46" x1="0" x2="1" y1="0" y2="0"><stop offset="0" stop-color="#0a0a0a"/><stop offset="0.6" stop-color="#1a1a1a"/><stop offset="1" stop-color="#6a6a6a"/></linearGradient><linearGradient id="g52" x1="0" x2="1" y1="0" y2="0"><stop offset="0" stop-color="#8a8a8a"/><stop offset="0.5" stop-color="#9a9a9a"/><stop offset="1" stop-color="#bdbdbd"/></linearGradient><linearGradient id="g567" x1="0" x2="1" y1="0" y2="0"><stop offset="0" stop-color="#3a3a3a"/><stop offset="0.6" stop-color="#111"/><stop offset="1" stop-color="#0a0a0a"/></linearGradient></defs>
<rect x="166.4" y="924.0" width="20.1" height="9.6" rx="4.8" fill="url(#g46)"/>
<rect x="168.9" y="915.7" width="2.4" height="8.5" rx="1.1" fill="#111"/>
<rect x="199.0" y="924.2" width="17.5" height="7.3" rx="3.6" fill="url(#g52)"/>
<ellipse cx="204.3" cy="923.0" rx="1.7" ry="1.5" fill="#1a1a1a"/>
<ellipse cx="239.8" cy="928.7" rx="4.2" ry="1.8" fill="#c8c8c8"/>
<rect x="68.3" y="955.6" width="25.9" height="13.6" rx="6.5" fill="#080808" opacity="1.0"/>
<rect x="102.5" y="954.5" width="25.5" height="15.7" rx="7.5" fill="#080808" opacity="1.0"/>
<rect x="135.7" y="954.5" width="16.3" height="11.5" rx="5.5" fill="#080808" opacity="1.0"/>
<circle cx="154.3" cy="960.4" r="4.1" fill="#080808"/>
<rect x="166.2" y="954.9" width="23.5" height="10.4" rx="5.2" fill="#080808" opacity="1.0"/>
<rect x="198.3" y="953.8" width="21.3" height="9.3" rx="4.6" fill="#080808" opacity="1.0"/>
<rect x="227.4" y="954.3" width="23.0" height="8.8" rx="4.4" fill="url(#g567)"/>
<rect x="258.7" y="954.9" width="20.9" height="7.0" rx="3.5" fill="#333" opacity="1.0"/>
<rect x="262.5" y="955.6" width="13.5" height="5.6" rx="2.8" fill="#111" opacity="1.0"/>
<ellipse cx="299.0" cy="959.5" rx="3.8" ry="2.8" fill="#b5b5b5"/>
<path d="M300.2,948.6 L307.4,948.6 C307.2,951 305.6,952.2 303.8,952.2 C302,952.2 300.4,951 300.2,948.6 Z" fill="#111"/>
<rect x="233.2" y="962" width="1.2" height="4.5" fill="#555"/>
</g>
</svg></body></html>
